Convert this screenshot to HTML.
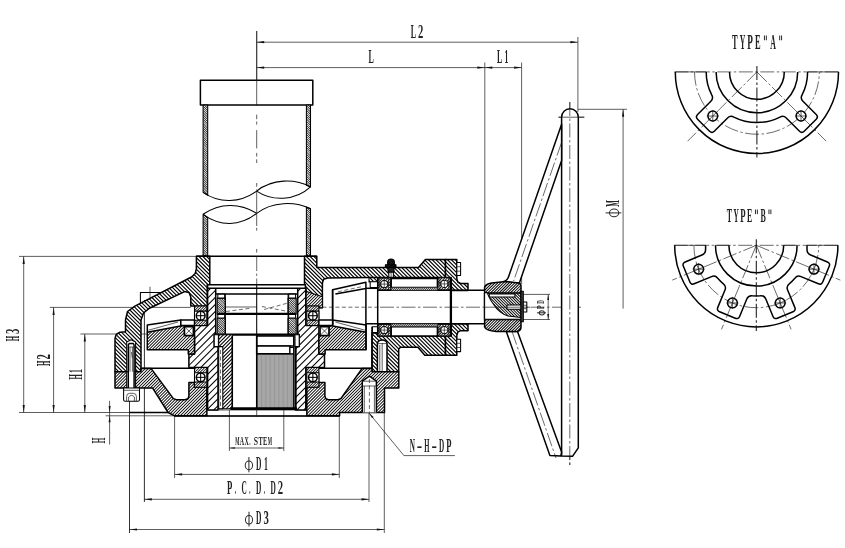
<!DOCTYPE html>
<html><head><meta charset="utf-8"><title>Gear operator drawing</title>
<style>
html,body{margin:0;padding:0;background:#fff;}
svg{display:block;font-family:"Liberation Serif",serif;}
.k{stroke:#000;stroke-width:1.5;stroke-linejoin:round;stroke-linecap:butt;}
.m{stroke:#000;stroke-width:1.05;stroke-linejoin:round;}
.kk{stroke:#000;stroke-width:2.3;}
.n{stroke:#1a1a1a;stroke-width:0.7;fill:none;}
.t{stroke:#2a2a2a;stroke-width:1.02;fill:none;}
.c{stroke:#1a1a1a;stroke-width:0.65;fill:none;stroke-dasharray:14 2.5 2.5 2.5;}
.d{stroke:#1a1a1a;stroke-width:0.65;fill:none;stroke-dasharray:4 2.5;}
.ah{fill:#111;stroke:none;}
text{fill:#222;font-weight:bold;}
</style></head><body>
<svg width="845" height="548" viewBox="0 0 845 548">
<rect width="845" height="548" fill="#fff"/>
<line x1="19" y1="256.4" x2="196.4" y2="256.4" class="n" />
<line x1="19" y1="412.5" x2="168" y2="412.5" class="n" />
<line x1="49.8" y1="307.4" x2="190.8" y2="307.4" class="n" />
<line x1="80.4" y1="334" x2="184" y2="334" class="n" />
<line x1="23.7" y1="256.4" x2="23.7" y2="412.5" class="n" />
<polygon points="23.7,256.4 24.8,263.9 22.6,263.9" class="ah"/>
<polygon points="23.7,412.5 22.6,405 24.8,405" class="ah"/>
<line x1="53.6" y1="307.4" x2="53.6" y2="412.5" class="n" />
<polygon points="53.6,307.4 54.7,314.9 52.5,314.9" class="ah"/>
<polygon points="53.6,412.5 52.5,405 54.7,405" class="ah"/>
<line x1="84.8" y1="334" x2="84.8" y2="412.5" class="n" />
<polygon points="84.8,334 85.9,341.5 83.7,341.5" class="ah"/>
<polygon points="84.8,412.5 83.7,405 85.9,405" class="ah"/>
<line x1="105.6" y1="415.8" x2="174.6" y2="415.8" class="n" />
<line x1="109.6" y1="400.8" x2="109.6" y2="444.5" class="n" />
<polygon points="109.6,412.5 108.6,406 110.6,406" class="ah"/>
<polygon points="109.6,415.8 110.6,422.3 108.6,422.3" class="ah"/>
<line x1="129.5" y1="401" x2="129.5" y2="533" class="n" style="stroke-width:1.02;stroke:#333"/>
<line x1="144.4" y1="300" x2="144.4" y2="502" class="n" style="stroke-width:1.02;stroke:#333"/>
<line x1="174.6" y1="415.8" x2="174.6" y2="478" class="n" />
<line x1="339.3" y1="415.8" x2="339.3" y2="478" class="n" />
<line x1="369" y1="412.5" x2="369" y2="502" class="n" />
<line x1="384.3" y1="412.5" x2="384.3" y2="533" class="n" />
<line x1="229.4" y1="410" x2="229.4" y2="451" class="n" />
<line x1="283.8" y1="410" x2="283.8" y2="451" class="n" />
<line x1="229.4" y1="448" x2="283.8" y2="448" class="n" />
<polygon points="229.4,448 234.9,447.2 234.9,448.8" class="ah"/>
<polygon points="283.8,448 278.3,448.8 278.3,447.2" class="ah"/>
<line x1="174.6" y1="474.4" x2="339.3" y2="474.4" class="n" />
<polygon points="174.6,474.4 182.1,473.3 182.1,475.5" class="ah"/>
<polygon points="339.3,474.4 331.8,475.5 331.8,473.3" class="ah"/>
<line x1="144.4" y1="499.3" x2="369" y2="499.3" class="n" />
<polygon points="144.4,499.3 151.9,498.2 151.9,500.4" class="ah"/>
<polygon points="369,499.3 361.5,500.4 361.5,498.2" class="ah"/>
<line x1="129.5" y1="529.5" x2="384.3" y2="529.5" class="n" />
<polygon points="129.5,529.5 137,528.4 137,530.6" class="ah"/>
<polygon points="384.3,529.5 376.8,530.6 376.8,528.4" class="ah"/>
<line x1="256.7" y1="31" x2="256.7" y2="105" class="n" />
<line x1="256.7" y1="42.2" x2="577.9" y2="42.2" class="n" />
<polygon points="256.7,42.2 264.2,41.1 264.2,43.3" class="ah"/>
<polygon points="577.9,42.2 570.4,43.3 570.4,41.1" class="ah"/>
<line x1="256.7" y1="67.6" x2="521.6" y2="67.6" class="n" />
<polygon points="256.7,67.6 264.2,66.5 264.2,68.7" class="ah"/>
<polygon points="484.8,67.6 477.3,68.7 477.3,66.5" class="ah"/>
<polygon points="484.8,67.6 492.3,66.5 492.3,68.7" class="ah"/>
<polygon points="521.6,67.6 514.1,68.7 514.1,66.5" class="ah"/>
<line x1="484.8" y1="62.5" x2="484.8" y2="290" class="n" />
<line x1="521.6" y1="62.5" x2="521.6" y2="284" class="n" />
<line x1="577.9" y1="37" x2="577.9" y2="112" class="n" />
<line x1="578" y1="109.3" x2="627" y2="109.3" class="n" />
<line x1="623.1" y1="109.3" x2="623.1" y2="308.6" class="n" />
<polygon points="623.1,109.3 624.2,116.8 622,116.8" class="ah"/>
<line x1="523" y1="294.4" x2="550" y2="294.4" class="n" />
<line x1="523" y1="319.5" x2="550" y2="319.5" class="n" />
<line x1="548.2" y1="294.4" x2="548.2" y2="319.5" class="n" />
<polygon points="548.2,294.4 549.1,299.9 547.3,299.9" class="ah"/>
<polygon points="548.2,319.5 547.3,314 549.1,314" class="ah"/>
<polyline points="369,413 403.9,455.6 454.9,455.6" fill="none" class="n" />
<polygon points="369,413 373.5,417.07 372.11,418.21" class="ah"/>
<line x1="322.4" y1="307.2" x2="380" y2="307.2" class="d" stroke-dasharray="5 3"/>
<line x1="380" y1="307.2" x2="581" y2="307.2" class="c" stroke-dasharray="84 3 4 3"/>
<line x1="569.8" y1="102" x2="569.8" y2="467" class="c" stroke-dasharray="22 4 4 4"/>
<line x1="558.5" y1="117.2" x2="584.3" y2="117.2" class="n" />
<rect x="200.4" y="80.2" width="112.4" height="24.8" fill="#fff" class="k" />
<line x1="256.7" y1="31" x2="256.7" y2="105.5" class="n" />
<path d="M203.1,105 V192.4 L207.7,195.3 V105 Z" fill="#fff" stroke="none"/>
<clipPath id="c1"><path d="M203.1,105 V192.4 L207.7,195.3 V105 Z"/></clipPath>
<path clip-path="url(#c1)" d="M110.64,104.5L111.6,104.5L203.6,196.5L202.64,196.5ZM112.84,104.5L113.81,104.5L205.81,196.5L204.84,196.5ZM115.05,104.5L116.01,104.5L208.01,196.5L207.05,196.5ZM117.26,104.5L118.22,104.5L210.22,196.5L209.26,196.5ZM119.46,104.5L120.42,104.5L212.42,196.5L211.46,196.5ZM121.67,104.5L122.63,104.5L214.63,196.5L213.67,196.5ZM123.87,104.5L124.84,104.5L216.84,196.5L215.87,196.5ZM126.08,104.5L127.04,104.5L219.04,196.5L218.08,196.5ZM128.29,104.5L129.25,104.5L221.25,196.5L220.29,196.5ZM130.49,104.5L131.45,104.5L223.45,196.5L222.49,196.5ZM132.7,104.5L133.66,104.5L225.66,196.5L224.7,196.5ZM134.91,104.5L135.87,104.5L227.87,196.5L226.91,196.5ZM137.11,104.5L138.07,104.5L230.07,196.5L229.11,196.5ZM139.32,104.5L140.28,104.5L232.28,196.5L231.32,196.5ZM141.52,104.5L142.49,104.5L234.49,196.5L233.52,196.5ZM143.73,104.5L144.69,104.5L236.69,196.5L235.73,196.5ZM145.94,104.5L146.9,104.5L238.9,196.5L237.94,196.5ZM148.14,104.5L149.1,104.5L241.1,196.5L240.14,196.5ZM150.35,104.5L151.31,104.5L243.31,196.5L242.35,196.5ZM152.55,104.5L153.52,104.5L245.52,196.5L244.55,196.5ZM154.76,104.5L155.72,104.5L247.72,196.5L246.76,196.5ZM156.97,104.5L157.93,104.5L249.93,196.5L248.97,196.5ZM159.17,104.5L160.14,104.5L252.14,196.5L251.17,196.5ZM161.38,104.5L162.34,104.5L254.34,196.5L253.38,196.5ZM163.59,104.5L164.55,104.5L256.55,196.5L255.59,196.5ZM165.79,104.5L166.75,104.5L258.75,196.5L257.79,196.5ZM168,104.5L168.96,104.5L260.96,196.5L260,196.5ZM170.2,104.5L171.17,104.5L263.17,196.5L262.2,196.5ZM172.41,104.5L173.37,104.5L265.37,196.5L264.41,196.5ZM174.62,104.5L175.58,104.5L267.58,196.5L266.62,196.5ZM176.82,104.5L177.78,104.5L269.78,196.5L268.82,196.5ZM179.03,104.5L179.99,104.5L271.99,196.5L271.03,196.5ZM181.24,104.5L182.2,104.5L274.2,196.5L273.24,196.5ZM183.44,104.5L184.4,104.5L276.4,196.5L275.44,196.5ZM185.65,104.5L186.61,104.5L278.61,196.5L277.65,196.5ZM187.85,104.5L188.82,104.5L280.82,196.5L279.85,196.5ZM190.06,104.5L191.02,104.5L283.02,196.5L282.06,196.5ZM192.27,104.5L193.23,104.5L285.23,196.5L284.27,196.5ZM194.47,104.5L195.43,104.5L287.43,196.5L286.47,196.5ZM196.68,104.5L197.64,104.5L289.64,196.5L288.68,196.5ZM198.88,104.5L199.85,104.5L291.85,196.5L290.88,196.5ZM201.09,104.5L202.05,104.5L294.05,196.5L293.09,196.5ZM203.3,104.5L204.26,104.5L296.26,196.5L295.3,196.5ZM205.5,104.5L206.46,104.5L298.46,196.5L297.5,196.5ZM207.71,104.5L208.67,104.5L300.67,196.5L299.71,196.5Z" fill="#000" stroke="none"/>
<path d="M203.1,105 V192.4 L207.7,195.3 V105 Z" fill="none" class="m" />
<path d="M306.4,105 V185.2 L310.5,186.9 V105 Z" fill="#fff" stroke="none"/>
<clipPath id="c2"><path d="M306.4,105 V185.2 L310.5,186.9 V105 Z"/></clipPath>
<path clip-path="url(#c2)" d="M220.95,104.5L221.91,104.5L304.91,187.5L303.95,187.5ZM223.15,104.5L224.11,104.5L307.11,187.5L306.15,187.5ZM225.36,104.5L226.32,104.5L309.32,187.5L308.36,187.5ZM227.56,104.5L228.53,104.5L311.53,187.5L310.56,187.5ZM229.77,104.5L230.73,104.5L313.73,187.5L312.77,187.5ZM231.98,104.5L232.94,104.5L315.94,187.5L314.98,187.5ZM234.18,104.5L235.15,104.5L318.15,187.5L317.18,187.5ZM236.39,104.5L237.35,104.5L320.35,187.5L319.39,187.5ZM238.6,104.5L239.56,104.5L322.56,187.5L321.6,187.5ZM240.8,104.5L241.76,104.5L324.76,187.5L323.8,187.5ZM243.01,104.5L243.97,104.5L326.97,187.5L326.01,187.5ZM245.21,104.5L246.18,104.5L329.18,187.5L328.21,187.5ZM247.42,104.5L248.38,104.5L331.38,187.5L330.42,187.5ZM249.63,104.5L250.59,104.5L333.59,187.5L332.63,187.5ZM251.83,104.5L252.79,104.5L335.79,187.5L334.83,187.5ZM254.04,104.5L255,104.5L338,187.5L337.04,187.5ZM256.25,104.5L257.21,104.5L340.21,187.5L339.25,187.5ZM258.45,104.5L259.41,104.5L342.41,187.5L341.45,187.5ZM260.66,104.5L261.62,104.5L344.62,187.5L343.66,187.5ZM262.86,104.5L263.83,104.5L346.83,187.5L345.86,187.5ZM265.07,104.5L266.03,104.5L349.03,187.5L348.07,187.5ZM267.28,104.5L268.24,104.5L351.24,187.5L350.28,187.5ZM269.48,104.5L270.44,104.5L353.44,187.5L352.48,187.5ZM271.69,104.5L272.65,104.5L355.65,187.5L354.69,187.5ZM273.89,104.5L274.86,104.5L357.86,187.5L356.89,187.5ZM276.1,104.5L277.06,104.5L360.06,187.5L359.1,187.5ZM278.31,104.5L279.27,104.5L362.27,187.5L361.31,187.5ZM280.51,104.5L281.47,104.5L364.47,187.5L363.51,187.5ZM282.72,104.5L283.68,104.5L366.68,187.5L365.72,187.5ZM284.93,104.5L285.89,104.5L368.89,187.5L367.93,187.5ZM287.13,104.5L288.09,104.5L371.09,187.5L370.13,187.5ZM289.34,104.5L290.3,104.5L373.3,187.5L372.34,187.5ZM291.54,104.5L292.51,104.5L375.51,187.5L374.54,187.5ZM293.75,104.5L294.71,104.5L377.71,187.5L376.75,187.5ZM295.96,104.5L296.92,104.5L379.92,187.5L378.96,187.5ZM298.16,104.5L299.12,104.5L382.12,187.5L381.16,187.5ZM300.37,104.5L301.33,104.5L384.33,187.5L383.37,187.5ZM302.57,104.5L303.54,104.5L386.54,187.5L385.57,187.5ZM304.78,104.5L305.74,104.5L388.74,187.5L387.78,187.5ZM306.99,104.5L307.95,104.5L390.95,187.5L389.99,187.5ZM309.19,104.5L310.15,104.5L393.15,187.5L392.19,187.5ZM311.4,104.5L312.36,104.5L395.36,187.5L394.4,187.5Z" fill="#000" stroke="none"/>
<path d="M306.4,105 V185.2 L310.5,186.9 V105 Z" fill="none" class="m" />
<path d="M203.1,255.7 V214.3 L207.7,217.6 V255.7 Z" fill="#fff" stroke="none"/>
<clipPath id="c3"><path d="M203.1,255.7 V214.3 L207.7,217.6 V255.7 Z"/></clipPath>
<path clip-path="url(#c3)" d="M157.86,213.5L158.83,213.5L201.83,256.5L200.86,256.5ZM160.07,213.5L161.03,213.5L204.03,256.5L203.07,256.5ZM162.28,213.5L163.24,213.5L206.24,256.5L205.28,256.5ZM164.48,213.5L165.45,213.5L208.45,256.5L207.48,256.5ZM166.69,213.5L167.65,213.5L210.65,256.5L209.69,256.5ZM168.9,213.5L169.86,213.5L212.86,256.5L211.9,256.5ZM171.1,213.5L172.06,213.5L215.06,256.5L214.1,256.5ZM173.31,213.5L174.27,213.5L217.27,256.5L216.31,256.5ZM175.51,213.5L176.48,213.5L219.48,256.5L218.51,256.5ZM177.72,213.5L178.68,213.5L221.68,256.5L220.72,256.5ZM179.93,213.5L180.89,213.5L223.89,256.5L222.93,256.5ZM182.13,213.5L183.09,213.5L226.09,256.5L225.13,256.5ZM184.34,213.5L185.3,213.5L228.3,256.5L227.34,256.5ZM186.55,213.5L187.51,213.5L230.51,256.5L229.55,256.5ZM188.75,213.5L189.71,213.5L232.71,256.5L231.75,256.5ZM190.96,213.5L191.92,213.5L234.92,256.5L233.96,256.5ZM193.16,213.5L194.13,213.5L237.13,256.5L236.16,256.5ZM195.37,213.5L196.33,213.5L239.33,256.5L238.37,256.5ZM197.58,213.5L198.54,213.5L241.54,256.5L240.58,256.5ZM199.78,213.5L200.74,213.5L243.74,256.5L242.78,256.5ZM201.99,213.5L202.95,213.5L245.95,256.5L244.99,256.5ZM204.19,213.5L205.16,213.5L248.16,256.5L247.19,256.5ZM206.4,213.5L207.36,213.5L250.36,256.5L249.4,256.5ZM208.61,213.5L209.57,213.5L252.57,256.5L251.61,256.5Z" fill="#000" stroke="none"/>
<path d="M203.1,255.7 V214.3 L207.7,217.6 V255.7 Z" fill="none" class="m" />
<path d="M306.4,255.7 V207 L310.5,208.8 V255.7 Z" fill="#fff" stroke="none"/>
<clipPath id="c4"><path d="M306.4,255.7 V207 L310.5,208.8 V255.7 Z"/></clipPath>
<path clip-path="url(#c4)" d="M254.55,206.5L255.52,206.5L305.52,256.5L304.55,256.5ZM256.76,206.5L257.72,206.5L307.72,256.5L306.76,256.5ZM258.97,206.5L259.93,206.5L309.93,256.5L308.97,256.5ZM261.17,206.5L262.14,206.5L312.14,256.5L311.17,256.5ZM263.38,206.5L264.34,206.5L314.34,256.5L313.38,256.5ZM265.59,206.5L266.55,206.5L316.55,256.5L315.59,256.5ZM267.79,206.5L268.75,206.5L318.75,256.5L317.79,256.5ZM270,206.5L270.96,206.5L320.96,256.5L320,256.5ZM272.2,206.5L273.17,206.5L323.17,256.5L322.2,256.5ZM274.41,206.5L275.37,206.5L325.37,256.5L324.41,256.5ZM276.62,206.5L277.58,206.5L327.58,256.5L326.62,256.5ZM278.82,206.5L279.78,206.5L329.78,256.5L328.82,256.5ZM281.03,206.5L281.99,206.5L331.99,256.5L331.03,256.5ZM283.24,206.5L284.2,206.5L334.2,256.5L333.24,256.5ZM285.44,206.5L286.4,206.5L336.4,256.5L335.44,256.5ZM287.65,206.5L288.61,206.5L338.61,256.5L337.65,256.5ZM289.85,206.5L290.82,206.5L340.82,256.5L339.85,256.5ZM292.06,206.5L293.02,206.5L343.02,256.5L342.06,256.5ZM294.27,206.5L295.23,206.5L345.23,256.5L344.27,256.5ZM296.47,206.5L297.43,206.5L347.43,256.5L346.47,256.5ZM298.68,206.5L299.64,206.5L349.64,256.5L348.68,256.5ZM300.88,206.5L301.85,206.5L351.85,256.5L350.88,256.5ZM303.09,206.5L304.05,206.5L354.05,256.5L353.09,256.5ZM305.3,206.5L306.26,206.5L356.26,256.5L355.3,256.5ZM307.5,206.5L308.46,206.5L358.46,256.5L357.5,256.5ZM309.71,206.5L310.67,206.5L360.67,256.5L359.71,256.5ZM311.92,206.5L312.88,206.5L362.88,256.5L361.92,256.5Z" fill="#000" stroke="none"/>
<path d="M306.4,255.7 V207 L310.5,208.8 V255.7 Z" fill="none" class="m" />
<path d="M203.1,192.4 C220,204 240,203 256.7,191.1 C272,178.5 295,178.5 310.5,186.9" fill="none" class="m" />
<path d="M256.7,191.1 C272,201.3 295,201.3 310.5,186.9" fill="none" class="m" />
<path d="M203.1,214.3 C220,202.7 240,202.7 256.7,213.4 C272,201.2 295,201.2 310.5,208.8" fill="none" class="m" />
<path d="M203.1,214.3 C220,226.6 240,226.6 256.7,213.4" fill="none" class="m" />
<polygon points="196.4,256.2 209.8,256.2 209.8,284.8 207.3,284.8 207.3,306 190.8,306 190.8,297 189,292.5 184.6,291.6 149.5,308.2 143.5,313 141,320 141,371.7 115,371.7 115,338.5 116.2,334.5 120,332.2 125.5,331.8 125.5,320 127.5,311.5 134.9,306.2 191.5,277 195.2,273.5 196.4,268.6" fill="#fff" stroke="none"/>
<clipPath id="c5"><polygon points="196.4,256.2 209.8,256.2 209.8,284.8 207.3,284.8 207.3,306 190.8,306 190.8,297 189,292.5 184.6,291.6 149.5,308.2 143.5,313 141,320 141,371.7 115,371.7 115,338.5 116.2,334.5 120,332.2 125.5,331.8 125.5,320 127.5,311.5 134.9,306.2 191.5,277 195.2,273.5 196.4,268.6"/></clipPath>
<path clip-path="url(#c5)" d="M-1.88,255.7L-0.27,255.7L116.23,372.2L114.62,372.2ZM1.95,255.7L3.56,255.7L120.06,372.2L118.45,372.2ZM5.78,255.7L7.39,255.7L123.89,372.2L122.28,372.2ZM9.61,255.7L11.22,255.7L127.72,372.2L126.11,372.2ZM13.45,255.7L15.06,255.7L131.56,372.2L129.95,372.2ZM17.28,255.7L18.89,255.7L135.39,372.2L133.78,372.2ZM21.11,255.7L22.72,255.7L139.22,372.2L137.61,372.2ZM24.94,255.7L26.55,255.7L143.05,372.2L141.44,372.2ZM28.78,255.7L30.39,255.7L146.89,372.2L145.28,372.2ZM32.61,255.7L34.22,255.7L150.72,372.2L149.11,372.2ZM36.44,255.7L38.05,255.7L154.55,372.2L152.94,372.2ZM40.27,255.7L41.89,255.7L158.39,372.2L156.77,372.2ZM44.11,255.7L45.72,255.7L162.22,372.2L160.61,372.2ZM47.94,255.7L49.55,255.7L166.05,372.2L164.44,372.2ZM51.77,255.7L53.38,255.7L169.88,372.2L168.27,372.2ZM55.6,255.7L57.22,255.7L173.72,372.2L172.1,372.2ZM59.44,255.7L61.05,255.7L177.55,372.2L175.94,372.2ZM63.27,255.7L64.88,255.7L181.38,372.2L179.77,372.2ZM67.1,255.7L68.71,255.7L185.21,372.2L183.6,372.2ZM70.93,255.7L72.55,255.7L189.05,372.2L187.43,372.2ZM74.77,255.7L76.38,255.7L192.88,372.2L191.27,372.2ZM78.6,255.7L80.21,255.7L196.71,372.2L195.1,372.2ZM82.43,255.7L84.04,255.7L200.54,372.2L198.93,372.2ZM86.26,255.7L87.88,255.7L204.38,372.2L202.76,372.2ZM90.1,255.7L91.71,255.7L208.21,372.2L206.6,372.2ZM93.93,255.7L95.54,255.7L212.04,372.2L210.43,372.2ZM97.76,255.7L99.37,255.7L215.87,372.2L214.26,372.2ZM101.59,255.7L103.21,255.7L219.71,372.2L218.09,372.2ZM105.43,255.7L107.04,255.7L223.54,372.2L221.93,372.2ZM109.26,255.7L110.87,255.7L227.37,372.2L225.76,372.2ZM113.09,255.7L114.7,255.7L231.2,372.2L229.59,372.2ZM116.92,255.7L118.54,255.7L235.04,372.2L233.42,372.2ZM120.76,255.7L122.37,255.7L238.87,372.2L237.26,372.2ZM124.59,255.7L126.2,255.7L242.7,372.2L241.09,372.2ZM128.42,255.7L130.03,255.7L246.53,372.2L244.92,372.2ZM132.25,255.7L133.87,255.7L250.37,372.2L248.75,372.2ZM136.09,255.7L137.7,255.7L254.2,372.2L252.59,372.2ZM139.92,255.7L141.53,255.7L258.03,372.2L256.42,372.2ZM143.75,255.7L145.36,255.7L261.86,372.2L260.25,372.2ZM147.58,255.7L149.2,255.7L265.7,372.2L264.08,372.2ZM151.42,255.7L153.03,255.7L269.53,372.2L267.92,372.2ZM155.25,255.7L156.86,255.7L273.36,372.2L271.75,372.2ZM159.08,255.7L160.69,255.7L277.19,372.2L275.58,372.2ZM162.91,255.7L164.53,255.7L281.03,372.2L279.41,372.2ZM166.75,255.7L168.36,255.7L284.86,372.2L283.25,372.2ZM170.58,255.7L172.19,255.7L288.69,372.2L287.08,372.2ZM174.41,255.7L176.02,255.7L292.52,372.2L290.91,372.2ZM178.24,255.7L179.86,255.7L296.36,372.2L294.74,372.2ZM182.08,255.7L183.69,255.7L300.19,372.2L298.58,372.2ZM185.91,255.7L187.52,255.7L304.02,372.2L302.41,372.2ZM189.74,255.7L191.35,255.7L307.85,372.2L306.24,372.2ZM193.57,255.7L195.19,255.7L311.69,372.2L310.07,372.2ZM197.41,255.7L199.02,255.7L315.52,372.2L313.91,372.2ZM201.24,255.7L202.85,255.7L319.35,372.2L317.74,372.2ZM205.07,255.7L206.68,255.7L323.18,372.2L321.57,372.2ZM208.9,255.7L210.52,255.7L327.02,372.2L325.4,372.2Z" fill="#000" stroke="none"/>
<polygon points="196.4,256.2 209.8,256.2 209.8,284.8 207.3,284.8 207.3,306 190.8,306 190.8,297 189,292.5 184.6,291.6 149.5,308.2 143.5,313 141,320 141,371.7 115,371.7 115,338.5 116.2,334.5 120,332.2 125.5,331.8 125.5,320 127.5,311.5 134.9,306.2 191.5,277 195.2,273.5 196.4,268.6" fill="none" class="k" />
<polygon points="304.5,256.2 316.8,256.2 316.8,267.4 418.5,267.4 425.4,259.4 445.5,259.4 445.5,277.6 369,277.6 327.5,278 323.6,279.2 322.4,283 322.4,307.8 319.3,307.8 319.3,305.9 305.8,305.9 305.8,288.2 304.5,284.8" fill="#fff" stroke="none"/>
<clipPath id="c6"><polygon points="304.5,256.2 316.8,256.2 316.8,267.4 418.5,267.4 425.4,259.4 445.5,259.4 445.5,277.6 369,277.6 327.5,278 323.6,279.2 322.4,283 322.4,307.8 319.3,307.8 319.3,305.9 305.8,305.9 305.8,288.2 304.5,284.8"/></clipPath>
<path clip-path="url(#c6)" d="M251.06,255.7L252.67,255.7L305.27,308.3L303.66,308.3ZM254.89,255.7L256.51,255.7L309.11,308.3L307.49,308.3ZM258.73,255.7L260.34,255.7L312.94,308.3L311.33,308.3ZM262.56,255.7L264.17,255.7L316.77,308.3L315.16,308.3ZM266.39,255.7L268,255.7L320.6,308.3L318.99,308.3ZM270.22,255.7L271.84,255.7L324.44,308.3L322.82,308.3ZM274.06,255.7L275.67,255.7L328.27,308.3L326.66,308.3ZM277.89,255.7L279.5,255.7L332.1,308.3L330.49,308.3ZM281.72,255.7L283.33,255.7L335.93,308.3L334.32,308.3ZM285.55,255.7L287.17,255.7L339.77,308.3L338.15,308.3ZM289.39,255.7L291,255.7L343.6,308.3L341.99,308.3ZM293.22,255.7L294.83,255.7L347.43,308.3L345.82,308.3ZM297.05,255.7L298.66,255.7L351.26,308.3L349.65,308.3ZM300.88,255.7L302.5,255.7L355.1,308.3L353.48,308.3ZM304.72,255.7L306.33,255.7L358.93,308.3L357.32,308.3ZM308.55,255.7L310.16,255.7L362.76,308.3L361.15,308.3ZM312.38,255.7L313.99,255.7L366.59,308.3L364.98,308.3ZM316.21,255.7L317.83,255.7L370.43,308.3L368.81,308.3ZM320.05,255.7L321.66,255.7L374.26,308.3L372.65,308.3ZM323.88,255.7L325.49,255.7L378.09,308.3L376.48,308.3ZM327.71,255.7L329.32,255.7L381.92,308.3L380.31,308.3ZM331.54,255.7L333.16,255.7L385.76,308.3L384.14,308.3ZM335.38,255.7L336.99,255.7L389.59,308.3L387.98,308.3ZM339.21,255.7L340.82,255.7L393.42,308.3L391.81,308.3ZM343.04,255.7L344.65,255.7L397.25,308.3L395.64,308.3ZM346.87,255.7L348.49,255.7L401.09,308.3L399.47,308.3ZM350.71,255.7L352.32,255.7L404.92,308.3L403.31,308.3ZM354.54,255.7L356.15,255.7L408.75,308.3L407.14,308.3ZM358.37,255.7L359.98,255.7L412.58,308.3L410.97,308.3ZM362.2,255.7L363.82,255.7L416.42,308.3L414.8,308.3ZM366.04,255.7L367.65,255.7L420.25,308.3L418.64,308.3ZM369.87,255.7L371.48,255.7L424.08,308.3L422.47,308.3ZM373.7,255.7L375.31,255.7L427.91,308.3L426.3,308.3ZM377.53,255.7L379.15,255.7L431.75,308.3L430.13,308.3ZM381.37,255.7L382.98,255.7L435.58,308.3L433.97,308.3ZM385.2,255.7L386.81,255.7L439.41,308.3L437.8,308.3ZM389.03,255.7L390.64,255.7L443.24,308.3L441.63,308.3ZM392.86,255.7L394.48,255.7L447.08,308.3L445.46,308.3ZM396.7,255.7L398.31,255.7L450.91,308.3L449.3,308.3ZM400.53,255.7L402.14,255.7L454.74,308.3L453.13,308.3ZM404.36,255.7L405.97,255.7L458.57,308.3L456.96,308.3ZM408.19,255.7L409.81,255.7L462.41,308.3L460.79,308.3ZM412.03,255.7L413.64,255.7L466.24,308.3L464.63,308.3ZM415.86,255.7L417.47,255.7L470.07,308.3L468.46,308.3ZM419.69,255.7L421.3,255.7L473.9,308.3L472.29,308.3ZM423.52,255.7L425.14,255.7L477.74,308.3L476.12,308.3ZM427.36,255.7L428.97,255.7L481.57,308.3L479.96,308.3ZM431.19,255.7L432.8,255.7L485.4,308.3L483.79,308.3ZM435.02,255.7L436.63,255.7L489.23,308.3L487.62,308.3ZM438.85,255.7L440.47,255.7L493.07,308.3L491.45,308.3ZM442.69,255.7L444.3,255.7L496.9,308.3L495.29,308.3ZM446.52,255.7L448.13,255.7L500.73,308.3L499.12,308.3Z" fill="#000" stroke="none"/>
<polygon points="304.5,256.2 316.8,256.2 316.8,267.4 418.5,267.4 425.4,259.4 445.5,259.4 445.5,277.6 369,277.6 327.5,278 323.6,279.2 322.4,283 322.4,307.8 319.3,307.8 319.3,305.9 305.8,305.9 305.8,288.2 304.5,284.8" fill="none" class="k" />
<line x1="196.4" y1="256.2" x2="316.8" y2="256.2" class="k" />
<polygon points="305.8,291.3 322.4,296.7 322.4,307.8 319.3,307.8 319.3,305.9 305.8,305.9" fill="#fff" stroke="none"/>
<clipPath id="c7"><polygon points="305.8,291.3 322.4,296.7 322.4,307.8 319.3,307.8 319.3,305.9 305.8,305.9"/></clipPath>
<path clip-path="url(#c7)" d="M304.51,290.8L305.79,290.8L288.29,308.3L287.01,308.3ZM307.55,290.8L308.83,290.8L291.33,308.3L290.05,308.3ZM310.59,290.8L311.87,290.8L294.37,308.3L293.09,308.3ZM313.63,290.8L314.91,290.8L297.41,308.3L296.13,308.3ZM316.68,290.8L317.95,290.8L300.45,308.3L299.18,308.3ZM319.72,290.8L320.99,290.8L303.49,308.3L302.22,308.3ZM322.76,290.8L324.03,290.8L306.53,308.3L305.26,308.3ZM325.8,290.8L327.07,290.8L309.57,308.3L308.3,308.3ZM328.84,290.8L330.11,290.8L312.61,308.3L311.34,308.3ZM331.88,290.8L333.15,290.8L315.65,308.3L314.38,308.3ZM334.92,290.8L336.19,290.8L318.69,308.3L317.42,308.3ZM337.96,290.8L339.23,290.8L321.73,308.3L320.46,308.3ZM341,290.8L342.27,290.8L324.77,308.3L323.5,308.3Z" fill="#000" stroke="none"/>
<polygon points="305.8,291.3 322.4,296.7 322.4,307.8 319.3,307.8 319.3,305.9 305.8,305.9" fill="none" class="m" />
<polygon points="372,333 377.7,333 377.7,336 445.5,336 445.5,355.3 424.8,355.3 417.9,347.2 400.5,347.2 398.7,349 398.7,371.7 372,371.7" fill="#fff" stroke="none"/>
<clipPath id="c8"><polygon points="372,333 377.7,333 377.7,336 445.5,336 445.5,355.3 424.8,355.3 417.9,347.2 400.5,347.2 398.7,349 398.7,371.7 372,371.7"/></clipPath>
<path clip-path="url(#c8)" d="M331.69,332.5L333.31,332.5L373.01,372.2L371.39,372.2ZM335.53,332.5L337.14,332.5L376.84,372.2L375.23,372.2ZM339.36,332.5L340.97,332.5L380.67,372.2L379.06,372.2ZM343.19,332.5L344.8,332.5L384.5,372.2L382.89,372.2ZM347.02,332.5L348.64,332.5L388.34,372.2L386.72,372.2ZM350.86,332.5L352.47,332.5L392.17,372.2L390.56,372.2ZM354.69,332.5L356.3,332.5L396,372.2L394.39,372.2ZM358.52,332.5L360.13,332.5L399.83,372.2L398.22,372.2ZM362.35,332.5L363.97,332.5L403.67,372.2L402.05,372.2ZM366.19,332.5L367.8,332.5L407.5,372.2L405.89,372.2ZM370.02,332.5L371.63,332.5L411.33,372.2L409.72,372.2ZM373.85,332.5L375.46,332.5L415.16,372.2L413.55,372.2ZM377.68,332.5L379.3,332.5L419,372.2L417.38,372.2ZM381.52,332.5L383.13,332.5L422.83,372.2L421.22,372.2ZM385.35,332.5L386.96,332.5L426.66,372.2L425.05,372.2ZM389.18,332.5L390.79,332.5L430.49,372.2L428.88,372.2ZM393.01,332.5L394.63,332.5L434.33,372.2L432.71,372.2ZM396.85,332.5L398.46,332.5L438.16,372.2L436.55,372.2ZM400.68,332.5L402.29,332.5L441.99,372.2L440.38,372.2ZM404.51,332.5L406.12,332.5L445.82,372.2L444.21,372.2ZM408.34,332.5L409.96,332.5L449.66,372.2L448.04,372.2ZM412.18,332.5L413.79,332.5L453.49,372.2L451.88,372.2ZM416.01,332.5L417.62,332.5L457.32,372.2L455.71,372.2ZM419.84,332.5L421.45,332.5L461.15,372.2L459.54,372.2ZM423.67,332.5L425.29,332.5L464.99,372.2L463.37,372.2ZM427.51,332.5L429.12,332.5L468.82,372.2L467.21,372.2ZM431.34,332.5L432.95,332.5L472.65,372.2L471.04,372.2ZM435.17,332.5L436.78,332.5L476.48,372.2L474.87,372.2ZM439,332.5L440.62,332.5L480.32,372.2L478.7,372.2ZM442.84,332.5L444.45,332.5L484.15,372.2L482.54,372.2ZM446.67,332.5L448.28,332.5L487.98,372.2L486.37,372.2Z" fill="#000" stroke="none"/>
<polygon points="372,333 377.7,333 377.7,336 445.5,336 445.5,355.3 424.8,355.3 417.9,347.2 400.5,347.2 398.7,349 398.7,371.7 372,371.7" fill="none" class="k" />
<polygon points="445.5,259.4 456.8,259.4 456.8,278.6 457.8,282 460.5,283.5 468,283.5 468,290.5 450.9,290.5 450.9,277.6 445.5,277.6" fill="#fff" stroke="none"/>
<clipPath id="c9"><polygon points="445.5,259.4 456.8,259.4 456.8,278.6 457.8,282 460.5,283.5 468,283.5 468,290.5 450.9,290.5 450.9,277.6 445.5,277.6"/></clipPath>
<path clip-path="url(#c9)" d="M411.39,258.9L413.01,258.9L445.11,291L443.49,291ZM415.23,258.9L416.84,258.9L448.94,291L447.33,291ZM419.06,258.9L420.67,258.9L452.77,291L451.16,291ZM422.89,258.9L424.5,258.9L456.6,291L454.99,291ZM426.72,258.9L428.34,258.9L460.44,291L458.82,291ZM430.56,258.9L432.17,258.9L464.27,291L462.66,291ZM434.39,258.9L436,258.9L468.1,291L466.49,291ZM438.22,258.9L439.83,258.9L471.93,291L470.32,291ZM442.05,258.9L443.67,258.9L475.77,291L474.15,291ZM445.89,258.9L447.5,258.9L479.6,291L477.99,291ZM449.72,258.9L451.33,258.9L483.43,291L481.82,291ZM453.55,258.9L455.16,258.9L487.26,291L485.65,291ZM457.38,258.9L459,258.9L491.1,291L489.48,291ZM461.22,258.9L462.83,258.9L494.93,291L493.32,291ZM465.05,258.9L466.66,258.9L498.76,291L497.15,291ZM468.88,258.9L470.49,258.9L502.59,291L500.98,291Z" fill="#000" stroke="none"/>
<polygon points="445.5,259.4 456.8,259.4 456.8,278.6 457.8,282 460.5,283.5 468,283.5 468,290.5 450.9,290.5 450.9,277.6 445.5,277.6" fill="none" class="k" />
<polygon points="445.5,355.3 456.8,355.3 456.8,335.6 457.8,332.2 460.5,330.7 468,330.7 468,323.7 450.9,323.7 450.9,336 445.5,336" fill="#fff" stroke="none"/>
<clipPath id="c10"><polygon points="445.5,355.3 456.8,355.3 456.8,335.6 457.8,332.2 460.5,330.7 468,330.7 468,323.7 450.9,323.7 450.9,336 445.5,336"/></clipPath>
<path clip-path="url(#c10)" d="M410.54,323.2L412.15,323.2L444.75,355.8L443.14,355.8ZM414.37,323.2L415.99,323.2L448.59,355.8L446.97,355.8ZM418.21,323.2L419.82,323.2L452.42,355.8L450.81,355.8ZM422.04,323.2L423.65,323.2L456.25,355.8L454.64,355.8ZM425.87,323.2L427.48,323.2L460.08,355.8L458.47,355.8ZM429.7,323.2L431.32,323.2L463.92,355.8L462.3,355.8ZM433.54,323.2L435.15,323.2L467.75,355.8L466.14,355.8ZM437.37,323.2L438.98,323.2L471.58,355.8L469.97,355.8ZM441.2,323.2L442.81,323.2L475.41,355.8L473.8,355.8ZM445.03,323.2L446.65,323.2L479.25,355.8L477.63,355.8ZM448.87,323.2L450.48,323.2L483.08,355.8L481.47,355.8ZM452.7,323.2L454.31,323.2L486.91,355.8L485.3,355.8ZM456.53,323.2L458.14,323.2L490.74,355.8L489.13,355.8ZM460.36,323.2L461.98,323.2L494.58,355.8L492.96,355.8ZM464.2,323.2L465.81,323.2L498.41,355.8L496.8,355.8ZM468.03,323.2L469.64,323.2L502.24,355.8L500.63,355.8Z" fill="#000" stroke="none"/>
<polygon points="445.5,355.3 456.8,355.3 456.8,335.6 457.8,332.2 460.5,330.7 468,330.7 468,323.7 450.9,323.7 450.9,336 445.5,336" fill="none" class="k" />
<rect x="456.8" y="262.4" width="3.8" height="13.1" fill="#fff" class="m" />
<line x1="456.8" y1="266.7" x2="460.6" y2="266.7" class="n" />
<line x1="456.8" y1="271.2" x2="460.6" y2="271.2" class="n" />
<rect x="456.8" y="339.2" width="3.8" height="12.4" fill="#fff" class="m" />
<line x1="456.8" y1="343.3" x2="460.6" y2="343.3" class="n" />
<line x1="456.8" y1="347.5" x2="460.6" y2="347.5" class="n" />
<path d="M126.7,371.7 V342 L131.1,339.8 L135.6,342 V371.7" fill="#fff" class="m" />
<path d="M377.4,371.7 V343.4 Q378,340 382.2,340 Q386.4,340 387,343.4 V371.7 Z" fill="#fff" class="k" />
<line x1="377.4" y1="343.6" x2="387" y2="343.6" class="n" />
<line x1="379.8" y1="345" x2="379.8" y2="371" class="n" />
<line x1="382.2" y1="343" x2="382.2" y2="371" class="n" />
<polyline points="161,292.5 140.4,292.5 140.4,303.4" fill="none" class="m" />
<line x1="150" y1="286.7" x2="150" y2="299" class="n" />
<polygon points="115,371.7 141,371.7 141,368.4 151,368.4 173.4,398.6 176.5,399.7 185,399.7 188,398.7 188.9,396 188.9,382.4 194.5,382.4 194.5,387.3 206.8,387.3 206.8,415.8 174.6,415.8 168.1,412.5 152.5,387.9 115,387.9" fill="#fff" stroke="none"/>
<clipPath id="c11"><polygon points="115,371.7 141,371.7 141,368.4 151,368.4 173.4,398.6 176.5,399.7 185,399.7 188,398.7 188.9,396 188.9,382.4 194.5,382.4 194.5,387.3 206.8,387.3 206.8,415.8 174.6,415.8 168.1,412.5 152.5,387.9 115,387.9"/></clipPath>
<path clip-path="url(#c11)" d="M111.87,367.9L113.14,367.9L64.74,416.3L63.47,416.3ZM114.91,367.9L116.19,367.9L67.79,416.3L66.51,416.3ZM117.95,367.9L119.23,367.9L70.83,416.3L69.55,416.3ZM120.99,367.9L122.27,367.9L73.87,416.3L72.59,416.3ZM124.03,367.9L125.31,367.9L76.91,416.3L75.63,416.3ZM127.07,367.9L128.35,367.9L79.95,416.3L78.67,416.3ZM130.12,367.9L131.39,367.9L82.99,416.3L81.72,416.3ZM133.16,367.9L134.43,367.9L86.03,416.3L84.76,416.3ZM136.2,367.9L137.47,367.9L89.07,416.3L87.8,416.3ZM139.24,367.9L140.51,367.9L92.11,416.3L90.84,416.3ZM142.28,367.9L143.55,367.9L95.15,416.3L93.88,416.3ZM145.32,367.9L146.59,367.9L98.19,416.3L96.92,416.3ZM148.36,367.9L149.63,367.9L101.23,416.3L99.96,416.3ZM151.4,367.9L152.67,367.9L104.27,416.3L103,416.3ZM154.44,367.9L155.71,367.9L107.31,416.3L106.04,416.3ZM157.48,367.9L158.75,367.9L110.35,416.3L109.08,416.3ZM160.52,367.9L161.79,367.9L113.39,416.3L112.12,416.3ZM163.56,367.9L164.83,367.9L116.43,416.3L115.16,416.3ZM166.6,367.9L167.87,367.9L119.47,416.3L118.2,416.3ZM169.64,367.9L170.92,367.9L122.52,416.3L121.24,416.3ZM172.68,367.9L173.96,367.9L125.56,416.3L124.28,416.3ZM175.72,367.9L177,367.9L128.6,416.3L127.32,416.3ZM178.76,367.9L180.04,367.9L131.64,416.3L130.36,416.3ZM181.8,367.9L183.08,367.9L134.68,416.3L133.4,416.3ZM184.85,367.9L186.12,367.9L137.72,416.3L136.45,416.3ZM187.89,367.9L189.16,367.9L140.76,416.3L139.49,416.3ZM190.93,367.9L192.2,367.9L143.8,416.3L142.53,416.3ZM193.97,367.9L195.24,367.9L146.84,416.3L145.57,416.3ZM197.01,367.9L198.28,367.9L149.88,416.3L148.61,416.3ZM200.05,367.9L201.32,367.9L152.92,416.3L151.65,416.3ZM203.09,367.9L204.36,367.9L155.96,416.3L154.69,416.3ZM206.13,367.9L207.4,367.9L159,416.3L157.73,416.3ZM209.17,367.9L210.44,367.9L162.04,416.3L160.77,416.3ZM212.21,367.9L213.48,367.9L165.08,416.3L163.81,416.3ZM215.25,367.9L216.52,367.9L168.12,416.3L166.85,416.3ZM218.29,367.9L219.56,367.9L171.16,416.3L169.89,416.3ZM221.33,367.9L222.6,367.9L174.2,416.3L172.93,416.3ZM224.37,367.9L225.65,367.9L177.25,416.3L175.97,416.3ZM227.41,367.9L228.69,367.9L180.29,416.3L179.01,416.3ZM230.45,367.9L231.73,367.9L183.33,416.3L182.05,416.3ZM233.49,367.9L234.77,367.9L186.37,416.3L185.09,416.3ZM236.53,367.9L237.81,367.9L189.41,416.3L188.13,416.3ZM239.58,367.9L240.85,367.9L192.45,416.3L191.18,416.3ZM242.62,367.9L243.89,367.9L195.49,416.3L194.22,416.3ZM245.66,367.9L246.93,367.9L198.53,416.3L197.26,416.3ZM248.7,367.9L249.97,367.9L201.57,416.3L200.3,416.3ZM251.74,367.9L253.01,367.9L204.61,416.3L203.34,416.3ZM254.78,367.9L256.05,367.9L207.65,416.3L206.38,416.3Z" fill="#000" stroke="none"/>
<polygon points="115,371.7 141,371.7 141,368.4 151,368.4 173.4,398.6 176.5,399.7 185,399.7 188,398.7 188.9,396 188.9,382.4 194.5,382.4 194.5,387.3 206.8,387.3 206.8,415.8 174.6,415.8 168.1,412.5 152.5,387.9 115,387.9" fill="none" class="k" />
<polygon points="306.8,415.8 306.8,387.3 318.6,387.3 318.6,382.6 324.9,382.6 324.9,396 325.8,398.7 328.5,399.7 338,399.7 341,398.5 362.1,368.4 372,368.4 372,371.7 398.8,371.7 398.8,387.9 384.5,387.9 384.5,412.5 339.6,412.5 339.6,415.8" fill="#fff" stroke="none"/>
<clipPath id="c12"><polygon points="306.8,415.8 306.8,387.3 318.6,387.3 318.6,382.6 324.9,382.6 324.9,396 325.8,398.7 328.5,399.7 338,399.7 341,398.5 362.1,368.4 372,368.4 372,371.7 398.8,371.7 398.8,387.9 384.5,387.9 384.5,412.5 339.6,412.5 339.6,415.8"/></clipPath>
<path clip-path="url(#c12)" d="M306.47,367.9L307.74,367.9L259.34,416.3L258.07,416.3ZM309.51,367.9L310.78,367.9L262.38,416.3L261.11,416.3ZM312.55,367.9L313.82,367.9L265.42,416.3L264.15,416.3ZM315.59,367.9L316.86,367.9L268.46,416.3L267.19,416.3ZM318.63,367.9L319.9,367.9L271.5,416.3L270.23,416.3ZM321.67,367.9L322.94,367.9L274.54,416.3L273.27,416.3ZM324.71,367.9L325.98,367.9L277.58,416.3L276.31,416.3ZM327.75,367.9L329.02,367.9L280.62,416.3L279.35,416.3ZM330.79,367.9L332.07,367.9L283.67,416.3L282.39,416.3ZM333.83,367.9L335.11,367.9L286.71,416.3L285.43,416.3ZM336.87,367.9L338.15,367.9L289.75,416.3L288.47,416.3ZM339.91,367.9L341.19,367.9L292.79,416.3L291.51,416.3ZM342.95,367.9L344.23,367.9L295.83,416.3L294.55,416.3ZM346,367.9L347.27,367.9L298.87,416.3L297.6,416.3ZM349.04,367.9L350.31,367.9L301.91,416.3L300.64,416.3ZM352.08,367.9L353.35,367.9L304.95,416.3L303.68,416.3ZM355.12,367.9L356.39,367.9L307.99,416.3L306.72,416.3ZM358.16,367.9L359.43,367.9L311.03,416.3L309.76,416.3ZM361.2,367.9L362.47,367.9L314.07,416.3L312.8,416.3ZM364.24,367.9L365.51,367.9L317.11,416.3L315.84,416.3ZM367.28,367.9L368.55,367.9L320.15,416.3L318.88,416.3ZM370.32,367.9L371.59,367.9L323.19,416.3L321.92,416.3ZM373.36,367.9L374.63,367.9L326.23,416.3L324.96,416.3ZM376.4,367.9L377.67,367.9L329.27,416.3L328,416.3ZM379.44,367.9L380.71,367.9L332.31,416.3L331.04,416.3ZM382.48,367.9L383.75,367.9L335.35,416.3L334.08,416.3ZM385.52,367.9L386.8,367.9L338.4,416.3L337.12,416.3ZM388.56,367.9L389.84,367.9L341.44,416.3L340.16,416.3ZM391.6,367.9L392.88,367.9L344.48,416.3L343.2,416.3ZM394.64,367.9L395.92,367.9L347.52,416.3L346.24,416.3ZM397.68,367.9L398.96,367.9L350.56,416.3L349.28,416.3ZM400.73,367.9L402,367.9L353.6,416.3L352.33,416.3ZM403.77,367.9L405.04,367.9L356.64,416.3L355.37,416.3ZM406.81,367.9L408.08,367.9L359.68,416.3L358.41,416.3ZM409.85,367.9L411.12,367.9L362.72,416.3L361.45,416.3ZM412.89,367.9L414.16,367.9L365.76,416.3L364.49,416.3ZM415.93,367.9L417.2,367.9L368.8,416.3L367.53,416.3ZM418.97,367.9L420.24,367.9L371.84,416.3L370.57,416.3ZM422.01,367.9L423.28,367.9L374.88,416.3L373.61,416.3ZM425.05,367.9L426.32,367.9L377.92,416.3L376.65,416.3ZM428.09,367.9L429.36,367.9L380.96,416.3L379.69,416.3ZM431.13,367.9L432.4,367.9L384,416.3L382.73,416.3ZM434.17,367.9L435.44,367.9L387.04,416.3L385.77,416.3ZM437.21,367.9L438.48,367.9L390.08,416.3L388.81,416.3ZM440.25,367.9L441.53,367.9L393.13,416.3L391.85,416.3ZM443.29,367.9L444.57,367.9L396.17,416.3L394.89,416.3ZM446.33,367.9L447.61,367.9L399.21,416.3L397.93,416.3Z" fill="#000" stroke="none"/>
<polygon points="306.8,415.8 306.8,387.3 318.6,387.3 318.6,382.6 324.9,382.6 324.9,396 325.8,398.7 328.5,399.7 338,399.7 341,398.5 362.1,368.4 372,368.4 372,371.7 398.8,371.7 398.8,387.9 384.5,387.9 384.5,412.5 339.6,412.5 339.6,415.8" fill="none" class="k" />
<line x1="141" y1="368.2" x2="194.5" y2="368.2" class="k" />
<line x1="319" y1="368.2" x2="372" y2="368.2" class="k" />
<rect x="126.7" y="371.7" width="8.9" height="16.2" fill="#fff" class="m" />
<path d="M362.3,412.5 V381.2 L369.4,376.1 L376.4,381.2 V412.5" fill="#fff" class="k" />
<line x1="362.3" y1="381.2" x2="376.4" y2="381.2" class="n" />
<line x1="362.3" y1="386" x2="376.4" y2="386" class="n" />
<line x1="364.3" y1="386" x2="364.3" y2="412.5" class="n" />
<line x1="374.4" y1="386" x2="374.4" y2="412.5" class="n" />
<line x1="369.4" y1="379" x2="369.4" y2="412.5" class="d" />
<path d="M128.3,387.9 V345 L129.3,343.4 H133.2 L134.1,345 V387.9" fill="#fff" class="k" />
<line x1="128.3" y1="347" x2="134.1" y2="347" class="n" />
<line x1="130" y1="347" x2="130" y2="371.7" class="n" />
<line x1="132.4" y1="347" x2="132.4" y2="371.7" class="n" />
<line x1="131.5" y1="352" x2="132.4" y2="358" class="n" />
<path d="M123.6,387.9 L139.5,387.9 L139.5,399.8 Q139.5,401.3 138,401.3 L125.1,401.3 Q123.6,401.3 123.6,399.8 Z" fill="#fff" class="m" />
<path d="M126.6,401 V396.5 Q126.6,393.3 129.8,393.3 H133.3 Q136.4,393.3 136.4,396.5 V401" fill="none" class="n" />
<path d="M128.6,401 V397 Q131.5,393.8 134.4,397 V401" fill="none" class="n" />
<line x1="123.6" y1="390.3" x2="139.5" y2="390.3" class="n" />
<rect x="206.8" y="410" width="100" height="6" fill="#fff" class="n" />
<line x1="174.6" y1="416" x2="339.6" y2="416" class="k" />
<line x1="129.5" y1="412.5" x2="168.1" y2="412.5" class="k" />
<polygon points="207.6,288.2 215.7,288.2 215.7,334.5 214.2,334.5 214.2,346.6 218,346.6 218,410 207.6,410 207.6,367.4 188.9,367.4 188.9,354 194.5,354 194.5,325.5 207.6,325.5" fill="#fff" stroke="none"/>
<clipPath id="c13"><polygon points="207.6,288.2 215.7,288.2 215.7,334.5 214.2,334.5 214.2,346.6 218,346.6 218,410 207.6,410 207.6,367.4 188.9,367.4 188.9,354 194.5,354 194.5,325.5 207.6,325.5"/></clipPath>
<path clip-path="url(#c13)" d="M182.77,287.7L184.26,287.7L61.46,410.5L59.97,410.5ZM189.7,287.7L191.19,287.7L68.39,410.5L66.9,410.5ZM196.63,287.7L198.12,287.7L75.32,410.5L73.83,410.5ZM203.56,287.7L205.05,287.7L82.25,410.5L80.76,410.5ZM210.49,287.7L211.98,287.7L89.18,410.5L87.69,410.5ZM217.42,287.7L218.91,287.7L96.11,410.5L94.62,410.5ZM224.35,287.7L225.84,287.7L103.04,410.5L101.55,410.5ZM231.28,287.7L232.77,287.7L109.97,410.5L108.48,410.5ZM238.21,287.7L239.7,287.7L116.9,410.5L115.41,410.5ZM245.14,287.7L246.63,287.7L123.83,410.5L122.34,410.5ZM252.07,287.7L253.55,287.7L130.75,410.5L129.27,410.5ZM259,287.7L260.48,287.7L137.68,410.5L136.2,410.5ZM265.93,287.7L267.41,287.7L144.61,410.5L143.13,410.5ZM272.86,287.7L274.34,287.7L151.54,410.5L150.06,410.5ZM279.79,287.7L281.27,287.7L158.47,410.5L156.99,410.5ZM286.72,287.7L288.2,287.7L165.4,410.5L163.92,410.5ZM293.65,287.7L295.13,287.7L172.33,410.5L170.85,410.5ZM300.58,287.7L302.06,287.7L179.26,410.5L177.78,410.5ZM307.51,287.7L308.99,287.7L186.19,410.5L184.71,410.5ZM314.44,287.7L315.92,287.7L193.12,410.5L191.64,410.5ZM321.37,287.7L322.85,287.7L200.05,410.5L198.57,410.5ZM328.3,287.7L329.78,287.7L206.98,410.5L205.5,410.5ZM335.23,287.7L336.71,287.7L213.91,410.5L212.43,410.5ZM342.16,287.7L343.64,287.7L220.84,410.5L219.36,410.5Z" fill="#000" stroke="none"/>
<polygon points="207.6,288.2 215.7,288.2 215.7,334.5 214.2,334.5 214.2,346.6 218,346.6 218,410 207.6,410 207.6,367.4 188.9,367.4 188.9,354 194.5,354 194.5,325.5 207.6,325.5" fill="none" class="k" />
<polygon points="305.8,288.2 297.7,288.2 297.7,334.5 299.2,334.5 299.2,346.6 295.4,346.6 295.4,410 305.8,410 305.8,367.4 324.5,367.4 324.5,354 318.9,354 318.9,325.5 305.8,325.5" fill="#fff" stroke="none"/>
<clipPath id="c14"><polygon points="305.8,288.2 297.7,288.2 297.7,334.5 299.2,334.5 299.2,346.6 295.4,346.6 295.4,410 305.8,410 305.8,367.4 324.5,367.4 324.5,354 318.9,354 318.9,325.5 305.8,325.5"/></clipPath>
<path clip-path="url(#c14)" d="M293.65,287.7L295.13,287.7L172.33,410.5L170.85,410.5ZM300.58,287.7L302.06,287.7L179.26,410.5L177.78,410.5ZM307.51,287.7L308.99,287.7L186.19,410.5L184.71,410.5ZM314.44,287.7L315.92,287.7L193.12,410.5L191.64,410.5ZM321.37,287.7L322.85,287.7L200.05,410.5L198.57,410.5ZM328.3,287.7L329.78,287.7L206.98,410.5L205.5,410.5ZM335.23,287.7L336.71,287.7L213.91,410.5L212.43,410.5ZM342.16,287.7L343.64,287.7L220.84,410.5L219.36,410.5ZM349.09,287.7L350.57,287.7L227.77,410.5L226.29,410.5ZM356.01,287.7L357.5,287.7L234.7,410.5L233.21,410.5ZM362.94,287.7L364.43,287.7L241.63,410.5L240.14,410.5ZM369.87,287.7L371.36,287.7L248.56,410.5L247.07,410.5ZM376.8,287.7L378.29,287.7L255.49,410.5L254,410.5ZM383.73,287.7L385.22,287.7L262.42,410.5L260.93,410.5ZM390.66,287.7L392.15,287.7L269.35,410.5L267.86,410.5ZM397.59,287.7L399.08,287.7L276.28,410.5L274.79,410.5ZM404.52,287.7L406.01,287.7L283.21,410.5L281.72,410.5ZM411.45,287.7L412.94,287.7L290.14,410.5L288.65,410.5ZM418.38,287.7L419.87,287.7L297.07,410.5L295.58,410.5ZM425.31,287.7L426.8,287.7L304,410.5L302.51,410.5ZM432.24,287.7L433.73,287.7L310.93,410.5L309.44,410.5ZM439.17,287.7L440.66,287.7L317.86,410.5L316.37,410.5ZM446.1,287.7L447.58,287.7L324.78,410.5L323.3,410.5Z" fill="#000" stroke="none"/>
<polygon points="305.8,288.2 297.7,288.2 297.7,334.5 299.2,334.5 299.2,346.6 295.4,346.6 295.4,410 305.8,410 305.8,367.4 324.5,367.4 324.5,354 318.9,354 318.9,325.5 305.8,325.5" fill="none" class="k" />
<rect x="207.6" y="284.8" width="97.8" height="3.4" fill="#fff" class="k" />
<line x1="215.7" y1="294.1" x2="297.7" y2="294.1" class="k" />
<rect x="217.2" y="298.1" width="8.1" height="15.8" fill="#fff" stroke="none"/>
<clipPath id="c15"><rect x="217.2" y="298.1" width="8.1" height="15.8"/></clipPath>
<path clip-path="url(#c15)" d="M200.05,297.6L201.01,297.6L217.81,314.4L216.85,314.4ZM202.25,297.6L203.22,297.6L220.02,314.4L219.05,314.4ZM204.46,297.6L205.42,297.6L222.22,314.4L221.26,314.4ZM206.67,297.6L207.63,297.6L224.43,314.4L223.47,314.4ZM208.87,297.6L209.83,297.6L226.63,314.4L225.67,314.4ZM211.08,297.6L212.04,297.6L228.84,314.4L227.88,314.4ZM213.28,297.6L214.25,297.6L231.05,314.4L230.08,314.4ZM215.49,297.6L216.45,297.6L233.25,314.4L232.29,314.4ZM217.7,297.6L218.66,297.6L235.46,314.4L234.5,314.4ZM219.9,297.6L220.86,297.6L237.66,314.4L236.7,314.4ZM222.11,297.6L223.07,297.6L239.87,314.4L238.91,314.4ZM224.32,297.6L225.28,297.6L242.08,314.4L241.12,314.4ZM226.52,297.6L227.48,297.6L244.28,314.4L243.32,314.4Z" fill="#000" stroke="none"/>
<rect x="217.2" y="298.1" width="8.1" height="15.8" fill="none" class="m" />
<rect x="217.2" y="318" width="8.1" height="16.5" fill="#fff" stroke="none"/>
<clipPath id="c16"><rect x="217.2" y="318" width="8.1" height="16.5"/></clipPath>
<path clip-path="url(#c16)" d="M197.89,317.5L198.85,317.5L216.35,335L215.39,335ZM200.09,317.5L201.05,317.5L218.55,335L217.59,335ZM202.3,317.5L203.26,317.5L220.76,335L219.8,335ZM204.5,317.5L205.47,317.5L222.97,335L222,335ZM206.71,317.5L207.67,317.5L225.17,335L224.21,335ZM208.92,317.5L209.88,317.5L227.38,335L226.42,335ZM211.12,317.5L212.08,317.5L229.58,335L228.62,335ZM213.33,317.5L214.29,317.5L231.79,335L230.83,335ZM215.54,317.5L216.5,317.5L234,335L233.04,335ZM217.74,317.5L218.7,317.5L236.2,335L235.24,335ZM219.95,317.5L220.91,317.5L238.41,335L237.45,335ZM222.15,317.5L223.12,317.5L240.62,335L239.65,335ZM224.36,317.5L225.32,317.5L242.82,335L241.86,335Z" fill="#000" stroke="none"/>
<rect x="217.2" y="318" width="8.1" height="16.5" fill="none" class="m" />
<rect x="217.8" y="294.1" width="6.9" height="4" fill="#fff" class="m" />
<rect x="217.8" y="313.9" width="6.9" height="4.1" fill="#fff" class="m" />
<rect x="288.1" y="298.1" width="8.1" height="15.8" fill="#fff" stroke="none"/>
<clipPath id="c17"><rect x="288.1" y="298.1" width="8.1" height="15.8"/></clipPath>
<path clip-path="url(#c17)" d="M270.65,297.6L271.61,297.6L288.41,314.4L287.45,314.4ZM272.85,297.6L273.81,297.6L290.61,314.4L289.65,314.4ZM275.06,297.6L276.02,297.6L292.82,314.4L291.86,314.4ZM277.26,297.6L278.23,297.6L295.03,314.4L294.06,314.4ZM279.47,297.6L280.43,297.6L297.23,314.4L296.27,314.4ZM281.68,297.6L282.64,297.6L299.44,314.4L298.48,314.4ZM283.88,297.6L284.84,297.6L301.64,314.4L300.68,314.4ZM286.09,297.6L287.05,297.6L303.85,314.4L302.89,314.4ZM288.29,297.6L289.26,297.6L306.06,314.4L305.09,314.4ZM290.5,297.6L291.46,297.6L308.26,314.4L307.3,314.4ZM292.71,297.6L293.67,297.6L310.47,314.4L309.51,314.4ZM294.91,297.6L295.87,297.6L312.67,314.4L311.71,314.4ZM297.12,297.6L298.08,297.6L314.88,314.4L313.92,314.4Z" fill="#000" stroke="none"/>
<rect x="288.1" y="298.1" width="8.1" height="15.8" fill="none" class="m" />
<rect x="288.1" y="318" width="8.1" height="16.5" fill="#fff" stroke="none"/>
<clipPath id="c18"><rect x="288.1" y="318" width="8.1" height="16.5"/></clipPath>
<path clip-path="url(#c18)" d="M268.48,317.5L269.45,317.5L286.95,335L285.98,335ZM270.69,317.5L271.65,317.5L289.15,335L288.19,335ZM272.9,317.5L273.86,317.5L291.36,335L290.4,335ZM275.1,317.5L276.06,317.5L293.56,335L292.6,335ZM277.31,317.5L278.27,317.5L295.77,335L294.81,335ZM279.51,317.5L280.48,317.5L297.98,335L297.01,335ZM281.72,317.5L282.68,317.5L300.18,335L299.22,335ZM283.93,317.5L284.89,317.5L302.39,335L301.43,335ZM286.13,317.5L287.09,317.5L304.59,335L303.63,335ZM288.34,317.5L289.3,317.5L306.8,335L305.84,335ZM290.55,317.5L291.51,317.5L309.01,335L308.05,335ZM292.75,317.5L293.71,317.5L311.21,335L310.25,335ZM294.96,317.5L295.92,317.5L313.42,335L312.46,335ZM297.16,317.5L298.13,317.5L315.63,335L314.66,335Z" fill="#000" stroke="none"/>
<rect x="288.1" y="318" width="8.1" height="16.5" fill="none" class="m" />
<rect x="288.7" y="294.1" width="6.9" height="4" fill="#fff" class="m" />
<rect x="288.7" y="313.9" width="6.9" height="4.1" fill="#fff" class="m" />
<line x1="217.2" y1="313.9" x2="296.2" y2="313.9" class="kk" />
<line x1="225.3" y1="307" x2="256.7" y2="307" class="n" />
<line x1="225.3" y1="294.1" x2="225.3" y2="334.5" class="m" />
<line x1="288.1" y1="294.1" x2="288.1" y2="334.5" class="m" />
<line x1="226" y1="311.5" x2="250" y2="308.3" class="d" />
<line x1="262" y1="306.5" x2="288" y2="311.5" class="d" />
<line x1="264" y1="309.5" x2="288" y2="303" class="d" />
<line x1="214.2" y1="334.7" x2="299.2" y2="334.7" class="kk" />
<rect x="214.2" y="334.7" width="4.2" height="11.9" fill="#fff" class="m" />
<rect x="295" y="334.7" width="4.2" height="11.9" fill="#fff" class="m" />
<rect x="218.7" y="334.7" width="13.6" height="74.1" fill="#fff" stroke="none"/>
<clipPath id="c19"><rect x="218.7" y="334.7" width="13.6" height="74.1"/></clipPath>
<path clip-path="url(#c19)" d="M216.01,334.2L217.49,334.2L142.39,409.3L140.91,409.3ZM219.66,334.2L221.14,334.2L146.04,409.3L144.56,409.3ZM223.3,334.2L224.79,334.2L149.69,409.3L148.2,409.3ZM226.95,334.2L228.44,334.2L153.34,409.3L151.85,409.3ZM230.6,334.2L232.09,334.2L156.99,409.3L155.5,409.3ZM234.25,334.2L235.74,334.2L160.64,409.3L159.15,409.3ZM237.9,334.2L239.38,334.2L164.28,409.3L162.8,409.3ZM241.55,334.2L243.03,334.2L167.93,409.3L166.45,409.3ZM245.2,334.2L246.68,334.2L171.58,409.3L170.1,409.3ZM248.84,334.2L250.33,334.2L175.23,409.3L173.74,409.3ZM252.49,334.2L253.98,334.2L178.88,409.3L177.39,409.3ZM256.14,334.2L257.63,334.2L182.53,409.3L181.04,409.3ZM259.79,334.2L261.28,334.2L186.18,409.3L184.69,409.3ZM263.44,334.2L264.92,334.2L189.82,409.3L188.34,409.3ZM267.09,334.2L268.57,334.2L193.47,409.3L191.99,409.3ZM270.74,334.2L272.22,334.2L197.12,409.3L195.64,409.3ZM274.39,334.2L275.87,334.2L200.77,409.3L199.29,409.3ZM278.03,334.2L279.52,334.2L204.42,409.3L202.93,409.3ZM281.68,334.2L283.17,334.2L208.07,409.3L206.58,409.3ZM285.33,334.2L286.82,334.2L211.72,409.3L210.23,409.3ZM288.98,334.2L290.47,334.2L215.37,409.3L213.88,409.3ZM292.63,334.2L294.11,334.2L219.01,409.3L217.53,409.3ZM296.28,334.2L297.76,334.2L222.66,409.3L221.18,409.3ZM299.93,334.2L301.41,334.2L226.31,409.3L224.83,409.3ZM303.57,334.2L305.06,334.2L229.96,409.3L228.47,409.3ZM307.22,334.2L308.71,334.2L233.61,409.3L232.12,409.3Z" fill="#000" stroke="none"/>
<rect x="218.7" y="334.7" width="13.6" height="74.1" fill="none" class="m" />
<rect x="218.7" y="346.6" width="4.1" height="62.2" fill="#fff" class="m" />
<line x1="220.5" y1="350" x2="220.5" y2="407" class="d" />
<rect x="256.7" y="336" width="37.1" height="9.9" fill="#fff" class="k" />
<rect x="256.7" y="345.9" width="33.3" height="7.9" fill="#fff" class="k" />
<rect x="290" y="347.5" width="3.8" height="6.3" fill="#fff" class="m" />
<rect x="256.7" y="354.3" width="37.1" height="54.2" fill="#c6c6c6" class="m" />
<path d="M257.6,354.5V408.3M258.9,354.5V408.3M260.2,354.5V408.3M261.5,354.5V408.3M262.8,354.5V408.3M264.1,354.5V408.3M265.4,354.5V408.3M266.7,354.5V408.3M268,354.5V408.3M269.3,354.5V408.3M270.6,354.5V408.3M271.9,354.5V408.3M273.2,354.5V408.3M274.5,354.5V408.3M275.8,354.5V408.3M277.1,354.5V408.3M278.4,354.5V408.3M279.7,354.5V408.3M281,354.5V408.3M282.3,354.5V408.3M283.6,354.5V408.3M284.9,354.5V408.3M286.2,354.5V408.3M287.5,354.5V408.3M288.8,354.5V408.3M290.1,354.5V408.3M291.4,354.5V408.3M292.7,354.5V408.3" fill="none" class="n" style="stroke:#686868;stroke-width:0.5"/>
<line x1="256.7" y1="334.7" x2="256.7" y2="408.8" class="k" />
<line x1="293.8" y1="336" x2="293.8" y2="408.8" class="m" />
<line x1="296.1" y1="346.6" x2="296.1" y2="408.8" class="m" />
<line x1="232.3" y1="336" x2="232.3" y2="408.8" class="k" />
<line x1="230.5" y1="408.6" x2="297" y2="408.6" class="kk" style="stroke-width:2.7"/>
<rect x="194.5" y="305.9" width="12.3" height="19.6" fill="#fff" stroke="none"/>
<clipPath id="c20"><rect x="194.5" y="305.9" width="12.3" height="19.6"/></clipPath>
<path clip-path="url(#c20)" d="M193.82,305.4L194.95,305.4L174.35,326L173.22,326ZM196.5,305.4L197.64,305.4L177.04,326L175.9,326ZM199.19,305.4L200.32,305.4L179.72,326L178.59,326ZM201.88,305.4L203.01,305.4L182.41,326L181.28,326ZM204.57,305.4L205.7,305.4L185.1,326L183.97,326ZM207.25,305.4L208.38,305.4L187.78,326L186.65,326ZM209.94,305.4L211.07,305.4L190.47,326L189.34,326ZM212.63,305.4L213.76,305.4L193.16,326L192.03,326ZM215.31,305.4L216.44,305.4L195.84,326L194.71,326ZM218,305.4L219.13,305.4L198.53,326L197.4,326ZM220.69,305.4L221.82,305.4L201.22,326L200.09,326ZM223.37,305.4L224.51,305.4L203.91,326L202.77,326ZM226.06,305.4L227.19,305.4L206.59,326L205.46,326ZM228.75,305.4L229.88,305.4L209.28,326L208.15,326Z" fill="#000" stroke="none"/>
<rect x="194.5" y="305.9" width="12.3" height="19.6" fill="none" class="m" />
<rect x="194.5" y="311.1" width="12.3" height="9.2" fill="#fff" class="m" />
<circle cx="200.65" cy="315.7" r="4.4" fill="#fff" class="k" />
<line x1="196.25" y1="315.7" x2="205.05" y2="315.7" class="m" />
<line x1="200.65" y1="311.3" x2="200.65" y2="320.1" class="m" />
<rect x="306.8" y="305.9" width="12.1" height="19.6" fill="#fff" stroke="none"/>
<clipPath id="c21"><rect x="306.8" y="305.9" width="12.1" height="19.6"/></clipPath>
<path clip-path="url(#c21)" d="M306.67,305.4L307.8,305.4L287.2,326L286.07,326ZM309.36,305.4L310.49,305.4L289.89,326L288.76,326ZM312.05,305.4L313.18,305.4L292.58,326L291.45,326ZM314.73,305.4L315.86,305.4L295.26,326L294.13,326ZM317.42,305.4L318.55,305.4L297.95,326L296.82,326ZM320.11,305.4L321.24,305.4L300.64,326L299.51,326ZM322.79,305.4L323.93,305.4L303.33,326L302.19,326ZM325.48,305.4L326.61,305.4L306.01,326L304.88,326ZM328.17,305.4L329.3,305.4L308.7,326L307.57,326ZM330.85,305.4L331.99,305.4L311.39,326L310.25,326ZM333.54,305.4L334.67,305.4L314.07,326L312.94,326ZM336.23,305.4L337.36,305.4L316.76,326L315.63,326ZM338.92,305.4L340.05,305.4L319.45,326L318.32,326Z" fill="#000" stroke="none"/>
<rect x="306.8" y="305.9" width="12.1" height="19.6" fill="none" class="m" />
<rect x="306.8" y="311.1" width="12.1" height="9.2" fill="#fff" class="m" />
<circle cx="312.85" cy="315.7" r="4.4" fill="#fff" class="k" />
<line x1="308.45" y1="315.7" x2="317.25" y2="315.7" class="m" />
<line x1="312.85" y1="311.3" x2="312.85" y2="320.1" class="m" />
<rect x="194.5" y="367.4" width="12.3" height="19.9" fill="#fff" stroke="none"/>
<clipPath id="c22"><rect x="194.5" y="367.4" width="12.3" height="19.9"/></clipPath>
<path clip-path="url(#c22)" d="M194.12,366.9L195.25,366.9L174.35,387.8L173.22,387.8ZM196.81,366.9L197.94,366.9L177.04,387.8L175.91,387.8ZM199.49,366.9L200.62,366.9L179.72,387.8L178.59,387.8ZM202.18,366.9L203.31,366.9L182.41,387.8L181.28,387.8ZM204.87,366.9L206,366.9L185.1,387.8L183.97,387.8ZM207.55,366.9L208.68,366.9L187.78,387.8L186.65,387.8ZM210.24,366.9L211.37,366.9L190.47,387.8L189.34,387.8ZM212.93,366.9L214.06,366.9L193.16,387.8L192.03,387.8ZM215.61,366.9L216.75,366.9L195.85,387.8L194.71,387.8ZM218.3,366.9L219.43,366.9L198.53,387.8L197.4,387.8ZM220.99,366.9L222.12,366.9L201.22,387.8L200.09,387.8ZM223.68,366.9L224.81,366.9L203.91,387.8L202.78,387.8ZM226.36,366.9L227.49,366.9L206.59,387.8L205.46,387.8ZM229.05,366.9L230.18,366.9L209.28,387.8L208.15,387.8Z" fill="#000" stroke="none"/>
<rect x="194.5" y="367.4" width="12.3" height="19.9" fill="none" class="m" />
<rect x="194.5" y="372.75" width="12.3" height="9.2" fill="#fff" class="m" />
<circle cx="200.65" cy="377.35" r="4.4" fill="#fff" class="k" />
<line x1="196.25" y1="377.35" x2="205.05" y2="377.35" class="m" />
<line x1="200.65" y1="372.95" x2="200.65" y2="381.75" class="m" />
<rect x="306.8" y="367.4" width="12.1" height="19.9" fill="#fff" stroke="none"/>
<clipPath id="c23"><rect x="306.8" y="367.4" width="12.1" height="19.9"/></clipPath>
<path clip-path="url(#c23)" d="M304.29,366.9L305.42,366.9L284.52,387.8L283.39,387.8ZM306.97,366.9L308.1,366.9L287.2,387.8L286.07,387.8ZM309.66,366.9L310.79,366.9L289.89,387.8L288.76,387.8ZM312.35,366.9L313.48,366.9L292.58,387.8L291.45,387.8ZM315.03,366.9L316.17,366.9L295.27,387.8L294.13,387.8ZM317.72,366.9L318.85,366.9L297.95,387.8L296.82,387.8ZM320.41,366.9L321.54,366.9L300.64,387.8L299.51,387.8ZM323.09,366.9L324.23,366.9L303.33,387.8L302.19,387.8ZM325.78,366.9L326.91,366.9L306.01,387.8L304.88,387.8ZM328.47,366.9L329.6,366.9L308.7,387.8L307.57,387.8ZM331.16,366.9L332.29,366.9L311.39,387.8L310.26,387.8ZM333.84,366.9L334.97,366.9L314.07,387.8L312.94,387.8ZM336.53,366.9L337.66,366.9L316.76,387.8L315.63,387.8ZM339.22,366.9L340.35,366.9L319.45,387.8L318.32,387.8Z" fill="#000" stroke="none"/>
<rect x="306.8" y="367.4" width="12.1" height="19.9" fill="none" class="m" />
<rect x="306.8" y="372.75" width="12.1" height="9.2" fill="#fff" class="m" />
<circle cx="312.85" cy="377.35" r="4.4" fill="#fff" class="k" />
<line x1="308.45" y1="377.35" x2="317.25" y2="377.35" class="m" />
<line x1="312.85" y1="372.95" x2="312.85" y2="381.75" class="m" />
<rect x="377.7" y="278" width="13.1" height="12.2" fill="#fff" stroke="none"/>
<clipPath id="c24"><rect x="377.7" y="278" width="13.1" height="12.2"/></clipPath>
<path clip-path="url(#c24)" d="M377.56,277.5L378.7,277.5L365.5,290.7L364.36,290.7ZM380.25,277.5L381.38,277.5L368.18,290.7L367.05,290.7ZM382.94,277.5L384.07,277.5L370.87,290.7L369.74,290.7ZM385.62,277.5L386.76,277.5L373.56,290.7L372.42,290.7ZM388.31,277.5L389.44,277.5L376.24,290.7L375.11,290.7ZM391,277.5L392.13,277.5L378.93,290.7L377.8,290.7ZM393.69,277.5L394.82,277.5L381.62,290.7L380.49,290.7ZM396.37,277.5L397.5,277.5L384.3,290.7L383.17,290.7ZM399.06,277.5L400.19,277.5L386.99,290.7L385.86,290.7ZM401.75,277.5L402.88,277.5L389.68,290.7L388.55,290.7ZM404.43,277.5L405.57,277.5L392.37,290.7L391.23,290.7Z" fill="#000" stroke="none"/>
<rect x="377.7" y="278" width="13.1" height="12.2" fill="none" class="m" />
<rect x="379.85" y="278" width="8.8" height="12.2" fill="#fff" class="n" />
<rect x="377.7" y="282.9" width="13.1" height="2.4" fill="#fff" class="n" stroke="none"/>
<circle cx="384.25" cy="284.1" r="3.6" fill="#fff" class="m" />
<line x1="380.65" y1="284.1" x2="387.85" y2="284.1" class="n" />
<line x1="384.25" y1="280.5" x2="384.25" y2="287.7" class="n" />
<rect x="377.7" y="324.2" width="13.1" height="11.8" fill="#fff" stroke="none"/>
<clipPath id="c25"><rect x="377.7" y="324.2" width="13.1" height="11.8"/></clipPath>
<path clip-path="url(#c25)" d="M377.04,323.7L378.17,323.7L365.37,336.5L364.24,336.5ZM379.73,323.7L380.86,323.7L368.06,336.5L366.93,336.5ZM382.42,323.7L383.55,323.7L370.75,336.5L369.62,336.5ZM385.1,323.7L386.24,323.7L373.44,336.5L372.3,336.5ZM387.79,323.7L388.92,323.7L376.12,336.5L374.99,336.5ZM390.48,323.7L391.61,323.7L378.81,336.5L377.68,336.5ZM393.16,323.7L394.3,323.7L381.5,336.5L380.36,336.5ZM395.85,323.7L396.98,323.7L384.18,336.5L383.05,336.5ZM398.54,323.7L399.67,323.7L386.87,336.5L385.74,336.5ZM401.23,323.7L402.36,323.7L389.56,336.5L388.43,336.5ZM403.91,323.7L405.04,323.7L392.24,336.5L391.11,336.5Z" fill="#000" stroke="none"/>
<rect x="377.7" y="324.2" width="13.1" height="11.8" fill="none" class="m" />
<rect x="379.85" y="324.2" width="8.8" height="11.8" fill="#fff" class="n" />
<rect x="377.7" y="328.9" width="13.1" height="2.4" fill="#fff" class="n" stroke="none"/>
<circle cx="384.25" cy="330.1" r="3.6" fill="#fff" class="m" />
<line x1="380.65" y1="330.1" x2="387.85" y2="330.1" class="n" />
<line x1="384.25" y1="326.5" x2="384.25" y2="333.7" class="n" />
<rect x="437.8" y="277.6" width="13.1" height="12.6" fill="#fff" stroke="none"/>
<clipPath id="c26"><rect x="437.8" y="277.6" width="13.1" height="12.6"/></clipPath>
<path clip-path="url(#c26)" d="M437.08,277.1L438.21,277.1L424.61,290.7L423.48,290.7ZM439.76,277.1L440.9,277.1L427.3,290.7L426.16,290.7ZM442.45,277.1L443.58,277.1L429.98,290.7L428.85,290.7ZM445.14,277.1L446.27,277.1L432.67,290.7L431.54,290.7ZM447.83,277.1L448.96,277.1L435.36,290.7L434.23,290.7ZM450.51,277.1L451.64,277.1L438.04,290.7L436.91,290.7ZM453.2,277.1L454.33,277.1L440.73,290.7L439.6,290.7ZM455.89,277.1L457.02,277.1L443.42,290.7L442.29,290.7ZM458.57,277.1L459.71,277.1L446.11,290.7L444.97,290.7ZM461.26,277.1L462.39,277.1L448.79,290.7L447.66,290.7ZM463.95,277.1L465.08,277.1L451.48,290.7L450.35,290.7Z" fill="#000" stroke="none"/>
<rect x="437.8" y="277.6" width="13.1" height="12.6" fill="none" class="m" />
<rect x="439.95" y="277.6" width="8.8" height="12.6" fill="#fff" class="n" />
<rect x="437.8" y="282.7" width="13.1" height="2.4" fill="#fff" class="n" stroke="none"/>
<circle cx="444.35" cy="283.9" r="3.6" fill="#fff" class="m" />
<line x1="440.75" y1="283.9" x2="447.95" y2="283.9" class="n" />
<line x1="444.35" y1="280.3" x2="444.35" y2="287.5" class="n" />
<rect x="437.8" y="324.2" width="13.1" height="11.8" fill="#fff" stroke="none"/>
<clipPath id="c27"><rect x="437.8" y="324.2" width="13.1" height="11.8"/></clipPath>
<path clip-path="url(#c27)" d="M436.16,323.7L437.29,323.7L424.49,336.5L423.36,336.5ZM438.84,323.7L439.98,323.7L427.18,336.5L426.04,336.5ZM441.53,323.7L442.66,323.7L429.86,336.5L428.73,336.5ZM444.22,323.7L445.35,323.7L432.55,336.5L431.42,336.5ZM446.9,323.7L448.04,323.7L435.24,336.5L434.1,336.5ZM449.59,323.7L450.72,323.7L437.92,336.5L436.79,336.5ZM452.28,323.7L453.41,323.7L440.61,336.5L439.48,336.5ZM454.97,323.7L456.1,323.7L443.3,336.5L442.17,336.5ZM457.65,323.7L458.78,323.7L445.98,336.5L444.85,336.5ZM460.34,323.7L461.47,323.7L448.67,336.5L447.54,336.5ZM463.03,323.7L464.16,323.7L451.36,336.5L450.23,336.5Z" fill="#000" stroke="none"/>
<rect x="437.8" y="324.2" width="13.1" height="11.8" fill="none" class="m" />
<rect x="439.95" y="324.2" width="8.8" height="11.8" fill="#fff" class="n" />
<rect x="437.8" y="328.9" width="13.1" height="2.4" fill="#fff" class="n" stroke="none"/>
<circle cx="444.35" cy="330.1" r="3.6" fill="#fff" class="m" />
<line x1="440.75" y1="330.1" x2="447.95" y2="330.1" class="n" />
<line x1="444.35" y1="326.5" x2="444.35" y2="333.7" class="n" />
<polygon points="147.3,332.3 183.3,325.5 184.5,325.5 184.5,335.4 194.5,335.4 194.5,354 188.3,354 188.3,349.7 147.3,349.7" fill="#fff" stroke="none"/>
<clipPath id="c28"><polygon points="147.3,332.3 183.3,325.5 184.5,325.5 184.5,335.4 194.5,335.4 194.5,354 188.3,354 188.3,349.7 147.3,349.7"/></clipPath>
<path clip-path="url(#c28)" d="M145.65,325L146.92,325L117.42,354.5L116.15,354.5ZM148.69,325L149.96,325L120.46,354.5L119.19,354.5ZM151.73,325L153,325L123.5,354.5L122.23,354.5ZM154.77,325L156.04,325L126.54,354.5L125.27,354.5ZM157.81,325L159.09,325L129.59,354.5L128.31,354.5ZM160.85,325L162.13,325L132.63,354.5L131.35,354.5ZM163.89,325L165.17,325L135.67,354.5L134.39,354.5ZM166.93,325L168.21,325L138.71,354.5L137.43,354.5ZM169.97,325L171.25,325L141.75,354.5L140.47,354.5ZM173.02,325L174.29,325L144.79,354.5L143.52,354.5ZM176.06,325L177.33,325L147.83,354.5L146.56,354.5ZM179.1,325L180.37,325L150.87,354.5L149.6,354.5ZM182.14,325L183.41,325L153.91,354.5L152.64,354.5ZM185.18,325L186.45,325L156.95,354.5L155.68,354.5ZM188.22,325L189.49,325L159.99,354.5L158.72,354.5ZM191.26,325L192.53,325L163.03,354.5L161.76,354.5ZM194.3,325L195.57,325L166.07,354.5L164.8,354.5ZM197.34,325L198.61,325L169.11,354.5L167.84,354.5ZM200.38,325L201.65,325L172.15,354.5L170.88,354.5ZM203.42,325L204.69,325L175.19,354.5L173.92,354.5ZM206.46,325L207.73,325L178.23,354.5L176.96,354.5ZM209.5,325L210.77,325L181.27,354.5L180,354.5ZM212.54,325L213.82,325L184.32,354.5L183.04,354.5ZM215.58,325L216.86,325L187.36,354.5L186.08,354.5ZM218.62,325L219.9,325L190.4,354.5L189.12,354.5ZM221.66,325L222.94,325L193.44,354.5L192.16,354.5ZM224.7,325L225.98,325L196.48,354.5L195.2,354.5Z" fill="#000" stroke="none"/>
<polygon points="147.3,332.3 183.3,325.5 184.5,325.5 184.5,335.4 194.5,335.4 194.5,354 188.3,354 188.3,349.7 147.3,349.7" fill="none" class="k" />
<polygon points="366.1,332.3 330.1,325.5 328.9,325.5 328.9,335.4 318.9,335.4 318.9,354 325.1,354 325.1,349.7 366.1,349.7" fill="#fff" stroke="none"/>
<clipPath id="c29"><polygon points="366.1,332.3 330.1,325.5 328.9,325.5 328.9,335.4 318.9,335.4 318.9,354 325.1,354 325.1,349.7 366.1,349.7"/></clipPath>
<path clip-path="url(#c29)" d="M315.92,325L317.19,325L287.69,354.5L286.42,354.5ZM318.96,325L320.23,325L290.73,354.5L289.46,354.5ZM322,325L323.28,325L293.78,354.5L292.5,354.5ZM325.04,325L326.32,325L296.82,354.5L295.54,354.5ZM328.08,325L329.36,325L299.86,354.5L298.58,354.5ZM331.12,325L332.4,325L302.9,354.5L301.62,354.5ZM334.16,325L335.44,325L305.94,354.5L304.66,354.5ZM337.21,325L338.48,325L308.98,354.5L307.71,354.5ZM340.25,325L341.52,325L312.02,354.5L310.75,354.5ZM343.29,325L344.56,325L315.06,354.5L313.79,354.5ZM346.33,325L347.6,325L318.1,354.5L316.83,354.5ZM349.37,325L350.64,325L321.14,354.5L319.87,354.5ZM352.41,325L353.68,325L324.18,354.5L322.91,354.5ZM355.45,325L356.72,325L327.22,354.5L325.95,354.5ZM358.49,325L359.76,325L330.26,354.5L328.99,354.5ZM361.53,325L362.8,325L333.3,354.5L332.03,354.5ZM364.57,325L365.84,325L336.34,354.5L335.07,354.5ZM367.61,325L368.88,325L339.38,354.5L338.11,354.5ZM370.65,325L371.92,325L342.42,354.5L341.15,354.5ZM373.69,325L374.97,325L345.47,354.5L344.19,354.5ZM376.73,325L378.01,325L348.51,354.5L347.23,354.5ZM379.77,325L381.05,325L351.55,354.5L350.27,354.5ZM382.81,325L384.09,325L354.59,354.5L353.31,354.5ZM385.85,325L387.13,325L357.63,354.5L356.35,354.5ZM388.9,325L390.17,325L360.67,354.5L359.4,354.5ZM391.94,325L393.21,325L363.71,354.5L362.44,354.5ZM394.98,325L396.25,325L366.75,354.5L365.48,354.5Z" fill="#000" stroke="none"/>
<polygon points="366.1,332.3 330.1,325.5 328.9,325.5 328.9,335.4 318.9,335.4 318.9,354 325.1,354 325.1,349.7 366.1,349.7" fill="none" class="k" />
<polyline points="147.3,332.3 147.3,324.9 180.8,319.9 180.8,325.4" fill="none" class="k" />
<polyline points="148.5,330.2 178,322" fill="none" class="n" />
<rect x="184.5" y="326.7" width="8.8" height="8.7" fill="#fff" class="k" />
<line x1="184.5" y1="326.7" x2="193.3" y2="335.4" class="n" />
<line x1="184.5" y1="335.4" x2="193.3" y2="326.7" class="n" />
<polyline points="183.3,325.5 194.5,325.5" fill="none" class="m" />
<polyline points="366.1,332.3 366.1,324.9 332.6,319.9 332.6,325.4" fill="none" class="k" />
<polyline points="364.9,330.2 335.4,322" fill="none" class="n" />
<rect x="320.1" y="326.7" width="8.8" height="8.7" fill="#fff" class="k" />
<line x1="320.1" y1="326.7" x2="328.9" y2="335.4" class="n" />
<line x1="320.1" y1="335.4" x2="328.9" y2="326.7" class="n" />
<polyline points="330.1,325.5 318.9,325.5" fill="none" class="m" />
<polyline points="332.6,319.3 332.6,289.8 365.9,282.3 365.9,349.7" fill="none" class="k" />
<line x1="335.4" y1="294.1" x2="365.9" y2="288.5" class="k" />
<line x1="338" y1="291.8" x2="362" y2="286.6" class="d" />
<line x1="332.6" y1="289.8" x2="332.6" y2="324.4" class="k" />
<polygon points="369,277.6 377.7,277.6 377.7,282 369,282" fill="#fff" stroke="none"/>
<clipPath id="c30"><polygon points="369,277.6 377.7,277.6 377.7,282 369,282"/></clipPath>
<path clip-path="url(#c30)" d="M360.61,277.1L362.22,277.1L367.62,282.5L366.01,282.5ZM364.44,277.1L366.05,277.1L371.45,282.5L369.84,282.5ZM368.27,277.1L369.89,277.1L375.29,282.5L373.67,282.5ZM372.11,277.1L373.72,277.1L379.12,282.5L377.51,282.5ZM375.94,277.1L377.55,277.1L382.95,282.5L381.34,282.5ZM379.77,277.1L381.38,277.1L386.78,282.5L385.17,282.5Z" fill="#000" stroke="none"/>
<polygon points="369,277.6 377.7,277.6 377.7,282 369,282" fill="none" class="m" />
<line x1="365.9" y1="288.3" x2="377.7" y2="288.3" class="k" />
<rect x="318.9" y="319.9" width="13.7" height="5.5" fill="#fff" class="k" />
<rect x="180.8" y="319.9" width="13.7" height="5.5" fill="#fff" class="k" />
<rect x="370.2" y="281.7" width="7.5" height="5.9" fill="#fff" class="m" />
<rect x="372.4" y="326.7" width="5.3" height="5.9" fill="#fff" class="m" />
<line x1="372" y1="326.7" x2="372" y2="368.2" class="k" />
<line x1="377.7" y1="290.3" x2="484.6" y2="290.3" class="k" />
<line x1="365.9" y1="323.8" x2="484.6" y2="323.8" class="k" />
<line x1="377.7" y1="278" x2="377.7" y2="336" class="k" />
<line x1="450.9" y1="277.6" x2="450.9" y2="336" class="kk" />
<rect x="391.2" y="278.6" width="46.2" height="8.8" fill="#fff" class="k" />
<rect x="391.2" y="287.4" width="46.2" height="2.9" fill="#fff" stroke="none"/>
<clipPath id="c31"><rect x="391.2" y="287.4" width="46.2" height="2.9"/></clipPath>
<path clip-path="url(#c31)" d="M389.31,286.9L390.3,286.9L386.4,290.8L385.41,290.8ZM391.43,286.9L392.42,286.9L388.52,290.8L387.53,290.8ZM393.55,286.9L394.54,286.9L390.64,290.8L389.65,290.8ZM395.67,286.9L396.66,286.9L392.76,290.8L391.77,290.8ZM397.79,286.9L398.78,286.9L394.88,290.8L393.89,290.8ZM399.91,286.9L400.9,286.9L397,290.8L396.01,290.8ZM402.03,286.9L403.02,286.9L399.12,290.8L398.13,290.8ZM404.16,286.9L405.15,286.9L401.25,290.8L400.26,290.8ZM406.28,286.9L407.27,286.9L403.37,290.8L402.38,290.8ZM408.4,286.9L409.39,286.9L405.49,290.8L404.5,290.8ZM410.52,286.9L411.51,286.9L407.61,290.8L406.62,290.8ZM412.64,286.9L413.63,286.9L409.73,290.8L408.74,290.8ZM414.76,286.9L415.75,286.9L411.85,290.8L410.86,290.8ZM416.88,286.9L417.87,286.9L413.97,290.8L412.98,290.8ZM419,286.9L419.99,286.9L416.09,290.8L415.1,290.8ZM421.13,286.9L422.12,286.9L418.22,290.8L417.23,290.8ZM423.25,286.9L424.24,286.9L420.34,290.8L419.35,290.8ZM425.37,286.9L426.36,286.9L422.46,290.8L421.47,290.8ZM427.49,286.9L428.48,286.9L424.58,290.8L423.59,290.8ZM429.61,286.9L430.6,286.9L426.7,290.8L425.71,290.8ZM431.73,286.9L432.72,286.9L428.82,290.8L427.83,290.8ZM433.85,286.9L434.84,286.9L430.94,290.8L429.95,290.8ZM435.98,286.9L436.97,286.9L433.07,290.8L432.08,290.8ZM438.1,286.9L439.09,286.9L435.19,290.8L434.2,290.8ZM440.22,286.9L441.21,286.9L437.31,290.8L436.32,290.8ZM442.34,286.9L443.33,286.9L439.43,290.8L438.44,290.8Z" fill="#000" stroke="none"/>
<rect x="391.2" y="287.4" width="46.2" height="2.9" fill="none" class="n" />
<rect x="391.2" y="326.7" width="46.2" height="9.3" fill="#fff" class="k" />
<rect x="391.2" y="323.8" width="46.2" height="2.9" fill="#fff" stroke="none"/>
<clipPath id="c32"><rect x="391.2" y="323.8" width="46.2" height="2.9"/></clipPath>
<path clip-path="url(#c32)" d="M391.09,323.3L392.08,323.3L388.18,327.2L387.19,327.2ZM393.21,323.3L394.2,323.3L390.3,327.2L389.31,327.2ZM395.33,323.3L396.32,323.3L392.42,327.2L391.43,327.2ZM397.45,323.3L398.44,323.3L394.54,327.2L393.55,327.2ZM399.58,323.3L400.57,323.3L396.67,327.2L395.68,327.2ZM401.7,323.3L402.69,323.3L398.79,327.2L397.8,327.2ZM403.82,323.3L404.81,323.3L400.91,327.2L399.92,327.2ZM405.94,323.3L406.93,323.3L403.03,327.2L402.04,327.2ZM408.06,323.3L409.05,323.3L405.15,327.2L404.16,327.2ZM410.18,323.3L411.17,323.3L407.27,327.2L406.28,327.2ZM412.3,323.3L413.29,323.3L409.39,327.2L408.4,327.2ZM414.42,323.3L415.41,323.3L411.51,327.2L410.52,327.2ZM416.55,323.3L417.54,323.3L413.64,327.2L412.65,327.2ZM418.67,323.3L419.66,323.3L415.76,327.2L414.77,327.2ZM420.79,323.3L421.78,323.3L417.88,327.2L416.89,327.2ZM422.91,323.3L423.9,323.3L420,327.2L419.01,327.2ZM425.03,323.3L426.02,323.3L422.12,327.2L421.13,327.2ZM427.15,323.3L428.14,323.3L424.24,327.2L423.25,327.2ZM429.27,323.3L430.26,323.3L426.36,327.2L425.37,327.2ZM431.4,323.3L432.39,323.3L428.49,327.2L427.5,327.2ZM433.52,323.3L434.51,323.3L430.61,327.2L429.62,327.2ZM435.64,323.3L436.63,323.3L432.73,327.2L431.74,327.2ZM437.76,323.3L438.75,323.3L434.85,327.2L433.86,327.2ZM439.88,323.3L440.87,323.3L436.97,327.2L435.98,327.2ZM442,323.3L442.99,323.3L439.09,327.2L438.1,327.2Z" fill="#000" stroke="none"/>
<rect x="391.2" y="323.8" width="46.2" height="2.9" fill="none" class="n" />
<path d="M387.6,264.7 V262 Q387.6,259 391,259 Q394.4,259 394.4,262 V264.7 Z" fill="#111" class="m" />
<rect x="385.4" y="264.7" width="10.6" height="2.6" fill="#111" class="m" />
<rect x="388" y="267.3" width="6" height="5" fill="#222" class="m" />
<rect x="388.8" y="272.3" width="4.6" height="4.9" fill="#fff" class="m" />
<rect x="390.2" y="261.5" width="1.6" height="2.3" fill="#999" class="n" stroke="none"/>
<line x1="391.1" y1="272.5" x2="391.1" y2="277" class="n" />
<path d="M561.6,456 V117.2 A8.35,8.35 0 0 1 578.3,117.2 V447.8 L572.5,456.3 Z" fill="#fff" class="k" />
<line x1="569.8" y1="102" x2="569.8" y2="467" class="c" stroke-dasharray="22 4 4 4"/>
<line x1="558.5" y1="117.2" x2="584.3" y2="117.2" class="n" />
<path d="M561.6,124.2 L509,275.5 Q507.5,281 503,281.8 L519.3,283.2 L561.6,160.4 Z" fill="#fff" class="k" />
<line x1="561.6" y1="142.3" x2="513.6" y2="281" class="c" stroke-dasharray="16 3 3 3"/>
<path d="M506.3,331.4 L549.9,455.4 L560.9,456 L561.6,452 L517.5,331.4 Z" fill="#fff" class="k" />
<line x1="512" y1="331.4" x2="556" y2="458" class="c" stroke-dasharray="16 3 3 3"/>
<path d="M484.6,287.2 Q485.5,283.8 491.6,282.9 L505.7,281.6 L518.5,282.9 Q521,283.5 521,286 V327 Q521,330.2 518,331.4 H496 Q486,330.6 484.6,327 Z" fill="#fff" stroke="none"/>
<clipPath id="c33"><path d="M484.6,287.2 Q485.5,283.8 491.6,282.9 L505.7,281.6 L518.5,282.9 Q521,283.5 521,286 V327 Q521,330.2 518,331.4 H496 Q486,330.6 484.6,327 Z"/></clipPath>
<path clip-path="url(#c33)" d="M482.48,280.5L483.87,280.5L431.87,332.5L430.48,332.5ZM485.31,280.5L486.7,280.5L434.7,332.5L433.31,332.5ZM488.14,280.5L489.53,280.5L437.53,332.5L436.14,332.5ZM490.97,280.5L492.35,280.5L440.35,332.5L438.97,332.5ZM493.8,280.5L495.18,280.5L443.18,332.5L441.8,332.5ZM496.62,280.5L498.01,280.5L446.01,332.5L444.62,332.5ZM499.45,280.5L500.84,280.5L448.84,332.5L447.45,332.5ZM502.28,280.5L503.67,280.5L451.67,332.5L450.28,332.5ZM505.11,280.5L506.5,280.5L454.5,332.5L453.11,332.5ZM507.94,280.5L509.32,280.5L457.32,332.5L455.94,332.5ZM510.77,280.5L512.15,280.5L460.15,332.5L458.77,332.5ZM513.6,280.5L514.98,280.5L462.98,332.5L461.6,332.5ZM516.42,280.5L517.81,280.5L465.81,332.5L464.42,332.5ZM519.25,280.5L520.64,280.5L468.64,332.5L467.25,332.5ZM522.08,280.5L523.47,280.5L471.47,332.5L470.08,332.5ZM524.91,280.5L526.29,280.5L474.29,332.5L472.91,332.5ZM527.74,280.5L529.12,280.5L477.12,332.5L475.74,332.5ZM530.57,280.5L531.95,280.5L479.95,332.5L478.57,332.5ZM533.39,280.5L534.78,280.5L482.78,332.5L481.39,332.5ZM536.22,280.5L537.61,280.5L485.61,332.5L484.22,332.5ZM539.05,280.5L540.44,280.5L488.44,332.5L487.05,332.5ZM541.88,280.5L543.27,280.5L491.27,332.5L489.88,332.5ZM544.71,280.5L546.09,280.5L494.09,332.5L492.71,332.5ZM547.54,280.5L548.92,280.5L496.92,332.5L495.54,332.5ZM550.36,280.5L551.75,280.5L499.75,332.5L498.36,332.5ZM553.19,280.5L554.58,280.5L502.58,332.5L501.19,332.5ZM556.02,280.5L557.41,280.5L505.41,332.5L504.02,332.5ZM558.85,280.5L560.24,280.5L508.24,332.5L506.85,332.5ZM561.68,280.5L563.06,280.5L511.06,332.5L509.68,332.5ZM564.51,280.5L565.89,280.5L513.89,332.5L512.51,332.5ZM567.34,280.5L568.72,280.5L516.72,332.5L515.34,332.5ZM570.16,280.5L571.55,280.5L519.55,332.5L518.16,332.5ZM572.99,280.5L574.38,280.5L522.38,332.5L520.99,332.5Z" fill="#000" stroke="none"/>
<path d="M484.6,287.2 Q485.5,283.8 491.6,282.9 L505.7,281.6 L518.5,282.9 Q521,283.5 521,286 V327 Q521,330.2 518,331.4 H496 Q486,330.6 484.6,327 Z" fill="none" class="k" />
<path d="M484.6,292.9 H521 V319.5 H484.6 Z" fill="#fff" stroke="none"/>
<clipPath id="c34"><path d="M484.6,292.9 H521 V319.5 H484.6 Z"/></clipPath>
<path clip-path="url(#c34)" d="M452.03,291.5L453.41,291.5L482.41,320.5L481.03,320.5ZM454.86,291.5L456.24,291.5L485.24,320.5L483.86,320.5ZM457.68,291.5L459.07,291.5L488.07,320.5L486.68,320.5ZM460.51,291.5L461.9,291.5L490.9,320.5L489.51,320.5ZM463.34,291.5L464.73,291.5L493.73,320.5L492.34,320.5ZM466.17,291.5L467.56,291.5L496.56,320.5L495.17,320.5ZM469,291.5L470.38,291.5L499.38,320.5L498,320.5ZM471.83,291.5L473.21,291.5L502.21,320.5L500.83,320.5ZM474.65,291.5L476.04,291.5L505.04,320.5L503.65,320.5ZM477.48,291.5L478.87,291.5L507.87,320.5L506.48,320.5ZM480.31,291.5L481.7,291.5L510.7,320.5L509.31,320.5ZM483.14,291.5L484.53,291.5L513.53,320.5L512.14,320.5ZM485.97,291.5L487.35,291.5L516.35,320.5L514.97,320.5ZM488.8,291.5L490.18,291.5L519.18,320.5L517.8,320.5ZM491.63,291.5L493.01,291.5L522.01,320.5L520.63,320.5ZM494.45,291.5L495.84,291.5L524.84,320.5L523.45,320.5ZM497.28,291.5L498.67,291.5L527.67,320.5L526.28,320.5ZM500.11,291.5L501.5,291.5L530.5,320.5L529.11,320.5ZM502.94,291.5L504.32,291.5L533.32,320.5L531.94,320.5ZM505.77,291.5L507.15,291.5L536.15,320.5L534.77,320.5ZM508.6,291.5L509.98,291.5L538.98,320.5L537.6,320.5ZM511.42,291.5L512.81,291.5L541.81,320.5L540.42,320.5ZM514.25,291.5L515.64,291.5L544.64,320.5L543.25,320.5ZM517.08,291.5L518.47,291.5L547.47,320.5L546.08,320.5ZM519.91,291.5L521.3,291.5L550.3,320.5L548.91,320.5Z" fill="#000" stroke="none"/>
<path d="M484.6,292.9 H521 V319.5 H484.6 Z" fill="none" class="k" />
<path d="M484.6,292.6 H487 Q490,300 494,305 Q499,313 508,316 L521,317.6 V319.3 H484.6 Z" fill="#fff" class="m" />
<rect x="489.3" y="294" width="25.6" height="3" fill="#fff" class="m" />
<rect x="507" y="305" width="14" height="4.3" fill="#fff" class="m" />
<rect x="521" y="291.2" width="2.3" height="30.6" fill="#444" class="m" />
<rect x="523.3" y="302" width="3.5" height="9.9" fill="#fff" class="m" />
<line x1="523.3" y1="305.3" x2="526.8" y2="305.3" class="n" />
<line x1="523.3" y1="308.7" x2="526.8" y2="308.7" class="n" />
<line x1="484.6" y1="307.2" x2="530" y2="307.2" class="n" />
<line x1="256.7" y1="114.6" x2="256.7" y2="119.2" class="n" />
<line x1="256.7" y1="121.5" x2="256.7" y2="124.6" class="n" />
<line x1="256.7" y1="130.1" x2="256.7" y2="148.4" class="n" />
<line x1="256.7" y1="152.9" x2="256.7" y2="156.6" class="n" />
<line x1="256.7" y1="159.3" x2="256.7" y2="163" class="n" />
<line x1="256.7" y1="183" x2="256.7" y2="186.7" class="n" />
<line x1="256.7" y1="189.4" x2="256.7" y2="226" class="n" />
<line x1="256.7" y1="227.7" x2="256.7" y2="230.7" class="n" />
<line x1="256.7" y1="249" x2="256.7" y2="252.6" class="n" />
<line x1="256.7" y1="257" x2="256.7" y2="284.8" class="c" stroke-dasharray="27 3 4 3"/>
<line x1="256.7" y1="284.8" x2="256.7" y2="334.7" class="m" />
<line x1="256.7" y1="408.8" x2="256.7" y2="417" class="n" />
<line x1="674.3" y1="71.9" x2="839.5" y2="71.9" class="c" stroke-dasharray="12 3 3 3"/>
<path d="M675.3,71.9 A81.6,81.6 0 0 0 838.5,71.9" fill="none" class="k" />
<path d="M716.1,71.9 A40.8,40.8 0 0 0 797.7,71.9" fill="none" class="k" />
<path d="M729.5,71.9 A27.4,27.4 0 0 0 784.3,71.9" fill="none" class="k" />
<path d="M694.5,71.9 A62.4,62.4 0 0 0 819.3,71.9" fill="none" class="c" stroke-dasharray="14 3 3 3"/>
<line x1="675.3" y1="71.9" x2="706.2" y2="71.9" class="n" />
<line x1="807.6" y1="71.9" x2="838.5" y2="71.9" class="n" />
<line x1="756.9" y1="65.9" x2="756.9" y2="157.5" class="c" stroke-dasharray="14 3 3 3" style="stroke-width:1.05"/>
<path d="M706.2,71.9 A50.7,50.7 0 0 0 711.73,94.93 Q713.69,98.42 710.86,101.25 L697.57,114.54 Q695.24,116.87 697.57,119.21 L709.59,131.23 Q711.93,133.56 714.26,131.23 L727.55,117.94 Q730.38,115.11 733.87,117.07 A50.7,50.7 0 0 0 779.93,117.07 Q783.42,115.11 786.25,117.94 L799.54,131.23 Q801.87,133.56 804.21,131.23 L816.23,119.21 Q818.56,116.87 816.23,114.54 L802.94,101.25 Q800.11,98.42 802.07,94.93 A50.7,50.7 0 0 0 807.6,71.9" fill="none" class="k" />
<line x1="756.9" y1="71.9" x2="826.2" y2="141.2" class="c" stroke-dasharray="30 4 2 4 13 4 2 4 13 4 2 4 13"/>
<circle cx="801.02" cy="116.02" r="4.9" fill="#fff" class="k" />
<line x1="795.02" y1="116.02" x2="807.02" y2="116.02" class="n" />
<line x1="801.02" y1="110.02" x2="801.02" y2="122.02" class="n" />
<line x1="797.84" y1="112.84" x2="804.21" y2="119.21" class="n" />
<line x1="756.9" y1="71.9" x2="687.6" y2="141.2" class="c" stroke-dasharray="30 4 2 4 13 4 2 4 13 4 2 4 13"/>
<circle cx="712.78" cy="116.02" r="4.9" fill="#fff" class="k" />
<line x1="706.78" y1="116.02" x2="718.78" y2="116.02" class="n" />
<line x1="712.78" y1="110.02" x2="712.78" y2="122.02" class="n" />
<line x1="715.96" y1="112.84" x2="709.59" y2="119.21" class="n" />
<line x1="673.7" y1="245.3" x2="838.9" y2="245.3" class="c" stroke-dasharray="12 3 3 3"/>
<path d="M674.7,245.3 A81.6,81.6 0 0 0 837.9,245.3" fill="none" class="k" />
<path d="M715.5,245.3 A40.8,40.8 0 0 0 797.1,245.3" fill="none" class="k" />
<path d="M728.9,245.3 A27.4,27.4 0 0 0 783.7,245.3" fill="none" class="k" />
<path d="M693.9,245.3 A62.4,62.4 0 0 0 818.7,245.3" fill="none" class="c" stroke-dasharray="14 3 3 3"/>
<line x1="674.7" y1="245.3" x2="705.6" y2="245.3" class="n" />
<line x1="807" y1="245.3" x2="837.9" y2="245.3" class="n" />
<line x1="715.5" y1="245.3" x2="728.9" y2="245.3" class="n" />
<line x1="783.7" y1="245.3" x2="797.1" y2="245.3" class="n" />
<line x1="756.3" y1="239.3" x2="756.3" y2="330.9" class="c" stroke-dasharray="14 3 3 3" style="stroke-width:1.05"/>
<path d="M705.6,245.3 L705.6,249.53 Q705.6,253.53 701.9,255.06 L685.17,261.99 Q682.12,263.25 683.39,266.3 L689.89,282.01 Q691.16,285.06 694.2,283.79 L711.57,276.6 Q715.26,275.07 717.74,278.21 A50.7,50.7 0 0 0 723.39,283.86 Q726.53,286.34 725,290.03 L717.81,307.4 Q716.54,310.44 719.59,311.71 L735.3,318.21 Q738.35,319.48 739.61,316.43 L746.8,299.07 Q748.33,295.37 752.3,295.84 A50.7,50.7 0 0 0 760.3,295.84 Q764.27,295.37 765.8,299.07 L772.99,316.43 Q774.25,319.48 777.3,318.21 L793.01,311.71 Q796.06,310.44 794.79,307.4 L787.6,290.03 Q786.07,286.34 789.21,283.86 A50.7,50.7 0 0 0 794.86,278.21 Q797.34,275.07 801.03,276.6 L818.4,283.79 Q821.44,285.06 822.71,282.01 L829.21,266.3 Q830.48,263.25 827.43,261.99 L810.7,255.06 Q807,253.53 807,249.53 L807,245.3 " fill="none" class="k" />
<line x1="756.3" y1="245.3" x2="840.37" y2="280.12" class="c" stroke-dasharray="30 4 2 4 13 4 2 4 13 4 2 4 13"/>
<circle cx="813.95" cy="269.18" r="4.9" fill="#fff" class="k" />
<line x1="807.95" y1="269.18" x2="819.95" y2="269.18" class="n" />
<line x1="813.95" y1="263.18" x2="813.95" y2="275.18" class="n" />
<line x1="809.79" y1="267.46" x2="818.11" y2="270.9" class="n" />
<line x1="816.25" y1="263.64" x2="811.65" y2="274.72" class="n" />
<line x1="756.3" y1="245.3" x2="791.12" y2="329.37" class="c" stroke-dasharray="30 4 2 4 13 4 2 4 13 4 2 4 13"/>
<circle cx="780.18" cy="302.95" r="4.9" fill="#fff" class="k" />
<line x1="774.18" y1="302.95" x2="786.18" y2="302.95" class="n" />
<line x1="780.18" y1="296.95" x2="780.18" y2="308.95" class="n" />
<line x1="778.46" y1="298.79" x2="781.9" y2="307.11" class="n" />
<line x1="785.72" y1="300.65" x2="774.64" y2="305.25" class="n" />
<line x1="756.3" y1="245.3" x2="721.48" y2="329.37" class="c" stroke-dasharray="30 4 2 4 13 4 2 4 13 4 2 4 13"/>
<circle cx="732.42" cy="302.95" r="4.9" fill="#fff" class="k" />
<line x1="726.42" y1="302.95" x2="738.42" y2="302.95" class="n" />
<line x1="732.42" y1="296.95" x2="732.42" y2="308.95" class="n" />
<line x1="734.14" y1="298.79" x2="730.7" y2="307.11" class="n" />
<line x1="737.96" y1="305.25" x2="726.88" y2="300.65" class="n" />
<line x1="756.3" y1="245.3" x2="672.23" y2="280.12" class="c" stroke-dasharray="30 4 2 4 13 4 2 4 13 4 2 4 13"/>
<circle cx="698.65" cy="269.18" r="4.9" fill="#fff" class="k" />
<line x1="692.65" y1="269.18" x2="704.65" y2="269.18" class="n" />
<line x1="698.65" y1="263.18" x2="698.65" y2="275.18" class="n" />
<line x1="702.81" y1="267.46" x2="694.49" y2="270.9" class="n" />
<line x1="700.95" y1="274.72" x2="696.35" y2="263.64" class="n" />
<g opacity="0.999">
<text x="410.85" y="37.7" font-size="18.78" textLength="5.3" lengthAdjust="spacingAndGlyphs">L</text>
<text x="417.95" y="37.7" font-size="18.78" textLength="5.3" lengthAdjust="spacingAndGlyphs">2</text>
<text x="368.45" y="62.9" font-size="18.78" textLength="5.3" lengthAdjust="spacingAndGlyphs">L</text>
<text x="497.05" y="62.9" font-size="18.78" textLength="5.3" lengthAdjust="spacingAndGlyphs">L</text>
<text x="504.59" y="62.9" font-size="18.78" textLength="3.82" lengthAdjust="spacingAndGlyphs">1</text>
<text x="732.1" y="48.7" font-size="20.15" textLength="5.6" lengthAdjust="spacingAndGlyphs">T</text>
<text x="739.72" y="48.7" font-size="20.15" textLength="5.6" lengthAdjust="spacingAndGlyphs">Y</text>
<text x="747.34" y="48.7" font-size="20.15" textLength="5.6" lengthAdjust="spacingAndGlyphs">P</text>
<text x="754.96" y="48.7" font-size="20.15" textLength="5.6" lengthAdjust="spacingAndGlyphs">E</text>
<rect x="763.93" y="35.5" width="1.0" height="4.75" fill="#2a2a2a"/>
<rect x="765.83" y="35.5" width="1.0" height="4.75" fill="#2a2a2a"/>
<text x="770.2" y="48.7" font-size="20.15" textLength="5.6" lengthAdjust="spacingAndGlyphs">A</text>
<rect x="779.17" y="35.5" width="1.0" height="4.75" fill="#2a2a2a"/>
<rect x="781.07" y="35.5" width="1.0" height="4.75" fill="#2a2a2a"/>
<text x="726.75" y="222.3" font-size="19.54" textLength="5.3" lengthAdjust="spacingAndGlyphs">T</text>
<text x="733.5" y="222.3" font-size="19.54" textLength="5.3" lengthAdjust="spacingAndGlyphs">Y</text>
<text x="740.25" y="222.3" font-size="19.54" textLength="5.3" lengthAdjust="spacingAndGlyphs">P</text>
<text x="747" y="222.3" font-size="19.54" textLength="5.3" lengthAdjust="spacingAndGlyphs">E</text>
<rect x="754.95" y="209.5" width="1.0" height="4.61" fill="#2a2a2a"/>
<rect x="756.85" y="209.5" width="1.0" height="4.61" fill="#2a2a2a"/>
<text x="760.5" y="222.3" font-size="19.54" textLength="5.3" lengthAdjust="spacingAndGlyphs">B</text>
<rect x="768.45" y="209.5" width="1.0" height="4.61" fill="#2a2a2a"/>
<rect x="770.35" y="209.5" width="1.0" height="4.61" fill="#2a2a2a"/>
<text x="235.15" y="445" font-size="13.28" textLength="4.3" lengthAdjust="spacingAndGlyphs">M</text>
<text x="239.8" y="445" font-size="13.28" textLength="4.3" lengthAdjust="spacingAndGlyphs">A</text>
<text x="244.45" y="445" font-size="13.28" textLength="4.3" lengthAdjust="spacingAndGlyphs">X</text>
<text x="249.58" y="445" font-size="13.28" textLength="0.95" lengthAdjust="spacingAndGlyphs">.</text>
<text x="253.75" y="445" font-size="13.28" textLength="4.3" lengthAdjust="spacingAndGlyphs">S</text>
<text x="258.4" y="445" font-size="13.28" textLength="4.3" lengthAdjust="spacingAndGlyphs">T</text>
<text x="263.05" y="445" font-size="13.28" textLength="4.3" lengthAdjust="spacingAndGlyphs">E</text>
<text x="267.7" y="445" font-size="13.28" textLength="4.3" lengthAdjust="spacingAndGlyphs">M</text>
<text x="256.1" y="469.9" font-size="18.78" textLength="5.4" lengthAdjust="spacingAndGlyphs">D</text>
<text x="263.96" y="469.9" font-size="18.78" textLength="3.89" lengthAdjust="spacingAndGlyphs">1</text>
<ellipse cx="248.9" cy="465.35" rx="3.69" ry="4.43" fill="none" class="t"/>
<line x1="248.9" y1="472.36" x2="248.9" y2="457.11" class="t" />
<text x="227.1" y="493.8" font-size="18.32" textLength="5.3" lengthAdjust="spacingAndGlyphs">P</text>
<text x="234.9" y="493.8" font-size="18.32" textLength="1.17" lengthAdjust="spacingAndGlyphs">.</text>
<text x="241.56" y="493.8" font-size="18.32" textLength="5.3" lengthAdjust="spacingAndGlyphs">C</text>
<text x="249.36" y="493.8" font-size="18.32" textLength="1.17" lengthAdjust="spacingAndGlyphs">.</text>
<text x="256.02" y="493.8" font-size="18.32" textLength="5.3" lengthAdjust="spacingAndGlyphs">D</text>
<text x="263.82" y="493.8" font-size="18.32" textLength="1.17" lengthAdjust="spacingAndGlyphs">.</text>
<text x="270.48" y="493.8" font-size="18.32" textLength="5.3" lengthAdjust="spacingAndGlyphs">D</text>
<text x="277.71" y="493.8" font-size="18.32" textLength="5.3" lengthAdjust="spacingAndGlyphs">2</text>
<text x="256.1" y="524.2" font-size="17.86" textLength="5.4" lengthAdjust="spacingAndGlyphs">D</text>
<text x="263.4" y="524.2" font-size="17.86" textLength="5.4" lengthAdjust="spacingAndGlyphs">3</text>
<ellipse cx="249" cy="519.8" rx="3.57" ry="4.28" fill="none" class="t"/>
<line x1="249" y1="526.58" x2="249" y2="511.82" class="t" />
<text x="409.7" y="451.5" font-size="19.54" textLength="5.2" lengthAdjust="spacingAndGlyphs">N</text>
<text x="416.87" y="451.5" font-size="19.54" textLength="5.46" lengthAdjust="spacingAndGlyphs">-</text>
<text x="424.3" y="451.5" font-size="19.54" textLength="5.2" lengthAdjust="spacingAndGlyphs">H</text>
<text x="431.47" y="451.5" font-size="19.54" textLength="5.46" lengthAdjust="spacingAndGlyphs">-</text>
<text x="438.9" y="451.5" font-size="19.54" textLength="5.2" lengthAdjust="spacingAndGlyphs">D</text>
<text x="446.2" y="451.5" font-size="19.54" textLength="5.2" lengthAdjust="spacingAndGlyphs">P</text>
<text x="19" y="341.2" font-size="18.78" textLength="5.4" lengthAdjust="spacingAndGlyphs" transform="rotate(-90 19 341.2)">H</text>
<text x="19" y="334.1" font-size="18.78" textLength="5.4" lengthAdjust="spacingAndGlyphs" transform="rotate(-90 19 334.1)">3</text>
<text x="49.8" y="365.9" font-size="18.78" textLength="5.4" lengthAdjust="spacingAndGlyphs" transform="rotate(-90 49.8 365.9)">H</text>
<text x="49.8" y="359.6" font-size="18.78" textLength="5.4" lengthAdjust="spacingAndGlyphs" transform="rotate(-90 49.8 359.6)">2</text>
<text x="81.7" y="379.6" font-size="18.78" textLength="5.4" lengthAdjust="spacingAndGlyphs" transform="rotate(-90 81.7 379.6)">H</text>
<text x="81.7" y="372.94" font-size="18.78" textLength="3.89" lengthAdjust="spacingAndGlyphs" transform="rotate(-90 81.7 372.94)">1</text>
<text x="105.5" y="443.2" font-size="18.17" textLength="5.6" lengthAdjust="spacingAndGlyphs" transform="rotate(-90 105.5 443.2)">H</text>
<text x="618.8" y="206.8" font-size="19.39" textLength="6.6" lengthAdjust="spacingAndGlyphs" transform="rotate(-90 618.8 206.8)">M</text>
<ellipse cx="614.1" cy="212.9" rx="4.57" ry="3.81" fill="none" class="t"/>
<line x1="621.34" y1="212.9" x2="605.59" y2="212.9" class="t" />
<text x="544.5" y="309.1" font-size="10.69" textLength="3.6" lengthAdjust="spacingAndGlyphs" transform="rotate(-90 544.5 309.1)">P</text>
<text x="544.5" y="303.8" font-size="10.69" textLength="3.6" lengthAdjust="spacingAndGlyphs" transform="rotate(-90 544.5 303.8)">D</text>
<ellipse cx="541.84" cy="312.8" rx="2.59" ry="2.16" fill="none" class="t"/>
<line x1="545.94" y1="312.8" x2="537.01" y2="312.8" class="t" />
</g>
</svg>
</body></html>
